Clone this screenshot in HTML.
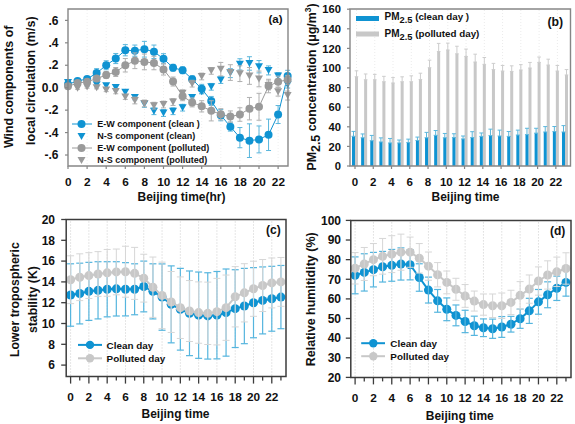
<!DOCTYPE html>
<html><head><meta charset="utf-8"><style>
html,body{margin:0;padding:0;background:#fff;}
svg{display:block;}
</style></head><body>
<svg width="575" height="424" viewBox="0 0 575 424">
<rect width="575" height="424" fill="#fff"/>
<line x1="87.1" y1="10" x2="87.1" y2="165" stroke="#efefef" stroke-width="1" stroke-dasharray="1,2"/>
<line x1="106.2" y1="10" x2="106.2" y2="165" stroke="#efefef" stroke-width="1" stroke-dasharray="1,2"/>
<line x1="125.3" y1="10" x2="125.3" y2="165" stroke="#efefef" stroke-width="1" stroke-dasharray="1,2"/>
<line x1="144.4" y1="10" x2="144.4" y2="165" stroke="#efefef" stroke-width="1" stroke-dasharray="1,2"/>
<line x1="163.5" y1="10" x2="163.5" y2="165" stroke="#efefef" stroke-width="1" stroke-dasharray="1,2"/>
<line x1="182.6" y1="10" x2="182.6" y2="165" stroke="#efefef" stroke-width="1" stroke-dasharray="1,2"/>
<line x1="201.7" y1="10" x2="201.7" y2="165" stroke="#efefef" stroke-width="1" stroke-dasharray="1,2"/>
<line x1="220.8" y1="10" x2="220.8" y2="165" stroke="#efefef" stroke-width="1" stroke-dasharray="1,2"/>
<line x1="239.9" y1="10" x2="239.9" y2="165" stroke="#efefef" stroke-width="1" stroke-dasharray="1,2"/>
<line x1="259" y1="10" x2="259" y2="165" stroke="#efefef" stroke-width="1" stroke-dasharray="1,2"/>
<line x1="278.1" y1="10" x2="278.1" y2="165" stroke="#efefef" stroke-width="1" stroke-dasharray="1,2"/>
<line x1="68" y1="80.18" x2="68" y2="84.67" stroke="#5ab6dc" stroke-width="1"/>
<line x1="65.5" y1="80.18" x2="70.5" y2="80.18" stroke="#5ab6dc" stroke-width="1"/>
<line x1="65.5" y1="84.67" x2="70.5" y2="84.67" stroke="#5ab6dc" stroke-width="1"/>
<line x1="68" y1="82.09" x2="68" y2="86.58" stroke="#5ab6dc" stroke-width="1"/>
<line x1="65.5" y1="82.09" x2="70.5" y2="82.09" stroke="#5ab6dc" stroke-width="1"/>
<line x1="65.5" y1="86.58" x2="70.5" y2="86.58" stroke="#5ab6dc" stroke-width="1"/>
<line x1="77.55" y1="80.97" x2="77.55" y2="85.46" stroke="#5ab6dc" stroke-width="1"/>
<line x1="75.05" y1="80.97" x2="80.05" y2="80.97" stroke="#5ab6dc" stroke-width="1"/>
<line x1="75.05" y1="85.46" x2="80.05" y2="85.46" stroke="#5ab6dc" stroke-width="1"/>
<line x1="77.55" y1="78.72" x2="77.55" y2="83.21" stroke="#5ab6dc" stroke-width="1"/>
<line x1="75.05" y1="78.72" x2="80.05" y2="78.72" stroke="#5ab6dc" stroke-width="1"/>
<line x1="75.05" y1="83.21" x2="80.05" y2="83.21" stroke="#5ab6dc" stroke-width="1"/>
<line x1="87.1" y1="81.53" x2="87.1" y2="86.02" stroke="#5ab6dc" stroke-width="1"/>
<line x1="84.6" y1="81.53" x2="89.6" y2="81.53" stroke="#5ab6dc" stroke-width="1"/>
<line x1="84.6" y1="86.02" x2="89.6" y2="86.02" stroke="#5ab6dc" stroke-width="1"/>
<line x1="87.1" y1="76.7" x2="87.1" y2="81.19" stroke="#5ab6dc" stroke-width="1"/>
<line x1="84.6" y1="76.7" x2="89.6" y2="76.7" stroke="#5ab6dc" stroke-width="1"/>
<line x1="84.6" y1="81.19" x2="89.6" y2="81.19" stroke="#5ab6dc" stroke-width="1"/>
<line x1="96.65" y1="82.43" x2="96.65" y2="86.91" stroke="#5ab6dc" stroke-width="1"/>
<line x1="94.15" y1="82.43" x2="99.15" y2="82.43" stroke="#5ab6dc" stroke-width="1"/>
<line x1="94.15" y1="86.91" x2="99.15" y2="86.91" stroke="#5ab6dc" stroke-width="1"/>
<line x1="96.65" y1="68.63" x2="96.65" y2="77.6" stroke="#5ab6dc" stroke-width="1"/>
<line x1="94.15" y1="68.63" x2="99.15" y2="68.63" stroke="#5ab6dc" stroke-width="1"/>
<line x1="94.15" y1="77.6" x2="99.15" y2="77.6" stroke="#5ab6dc" stroke-width="1"/>
<line x1="106.2" y1="83.55" x2="106.2" y2="88.04" stroke="#5ab6dc" stroke-width="1"/>
<line x1="103.7" y1="83.55" x2="108.7" y2="83.55" stroke="#5ab6dc" stroke-width="1"/>
<line x1="103.7" y1="88.04" x2="108.7" y2="88.04" stroke="#5ab6dc" stroke-width="1"/>
<line x1="106.2" y1="60.77" x2="106.2" y2="69.75" stroke="#5ab6dc" stroke-width="1"/>
<line x1="103.7" y1="60.77" x2="108.7" y2="60.77" stroke="#5ab6dc" stroke-width="1"/>
<line x1="103.7" y1="69.75" x2="108.7" y2="69.75" stroke="#5ab6dc" stroke-width="1"/>
<line x1="115.75" y1="85.34" x2="115.75" y2="89.83" stroke="#5ab6dc" stroke-width="1"/>
<line x1="113.25" y1="85.34" x2="118.25" y2="85.34" stroke="#5ab6dc" stroke-width="1"/>
<line x1="113.25" y1="89.83" x2="118.25" y2="89.83" stroke="#5ab6dc" stroke-width="1"/>
<line x1="115.75" y1="53.48" x2="115.75" y2="63.58" stroke="#5ab6dc" stroke-width="1"/>
<line x1="113.25" y1="53.48" x2="118.25" y2="53.48" stroke="#5ab6dc" stroke-width="1"/>
<line x1="113.25" y1="63.58" x2="118.25" y2="63.58" stroke="#5ab6dc" stroke-width="1"/>
<line x1="125.3" y1="89.94" x2="125.3" y2="94.43" stroke="#5ab6dc" stroke-width="1"/>
<line x1="122.8" y1="89.94" x2="127.8" y2="89.94" stroke="#5ab6dc" stroke-width="1"/>
<line x1="122.8" y1="94.43" x2="127.8" y2="94.43" stroke="#5ab6dc" stroke-width="1"/>
<line x1="125.3" y1="44.62" x2="125.3" y2="55.84" stroke="#5ab6dc" stroke-width="1"/>
<line x1="122.8" y1="44.62" x2="127.8" y2="44.62" stroke="#5ab6dc" stroke-width="1"/>
<line x1="122.8" y1="55.84" x2="127.8" y2="55.84" stroke="#5ab6dc" stroke-width="1"/>
<line x1="134.85" y1="95.33" x2="134.85" y2="99.82" stroke="#5ab6dc" stroke-width="1"/>
<line x1="132.35" y1="95.33" x2="137.35" y2="95.33" stroke="#5ab6dc" stroke-width="1"/>
<line x1="132.35" y1="99.82" x2="137.35" y2="99.82" stroke="#5ab6dc" stroke-width="1"/>
<line x1="134.85" y1="45.06" x2="134.85" y2="56.28" stroke="#5ab6dc" stroke-width="1"/>
<line x1="132.35" y1="45.06" x2="137.35" y2="45.06" stroke="#5ab6dc" stroke-width="1"/>
<line x1="132.35" y1="56.28" x2="137.35" y2="56.28" stroke="#5ab6dc" stroke-width="1"/>
<line x1="144.4" y1="100.6" x2="144.4" y2="107.34" stroke="#5ab6dc" stroke-width="1"/>
<line x1="141.9" y1="100.6" x2="146.9" y2="100.6" stroke="#5ab6dc" stroke-width="1"/>
<line x1="141.9" y1="107.34" x2="146.9" y2="107.34" stroke="#5ab6dc" stroke-width="1"/>
<line x1="144.4" y1="41.36" x2="144.4" y2="57.07" stroke="#5ab6dc" stroke-width="1"/>
<line x1="141.9" y1="41.36" x2="146.9" y2="41.36" stroke="#5ab6dc" stroke-width="1"/>
<line x1="141.9" y1="57.07" x2="146.9" y2="57.07" stroke="#5ab6dc" stroke-width="1"/>
<line x1="153.95" y1="107.9" x2="153.95" y2="114.63" stroke="#5ab6dc" stroke-width="1"/>
<line x1="151.45" y1="107.9" x2="156.45" y2="107.9" stroke="#5ab6dc" stroke-width="1"/>
<line x1="151.45" y1="114.63" x2="156.45" y2="114.63" stroke="#5ab6dc" stroke-width="1"/>
<line x1="153.95" y1="45.06" x2="153.95" y2="58.53" stroke="#5ab6dc" stroke-width="1"/>
<line x1="151.45" y1="45.06" x2="156.45" y2="45.06" stroke="#5ab6dc" stroke-width="1"/>
<line x1="151.45" y1="58.53" x2="156.45" y2="58.53" stroke="#5ab6dc" stroke-width="1"/>
<line x1="163.5" y1="109.69" x2="163.5" y2="116.42" stroke="#5ab6dc" stroke-width="1"/>
<line x1="161" y1="109.69" x2="166" y2="109.69" stroke="#5ab6dc" stroke-width="1"/>
<line x1="161" y1="116.42" x2="166" y2="116.42" stroke="#5ab6dc" stroke-width="1"/>
<line x1="163.5" y1="53.7" x2="163.5" y2="63.8" stroke="#5ab6dc" stroke-width="1"/>
<line x1="161" y1="53.7" x2="166" y2="53.7" stroke="#5ab6dc" stroke-width="1"/>
<line x1="161" y1="63.8" x2="166" y2="63.8" stroke="#5ab6dc" stroke-width="1"/>
<line x1="173.05" y1="107.9" x2="173.05" y2="114.63" stroke="#5ab6dc" stroke-width="1"/>
<line x1="170.55" y1="107.9" x2="175.55" y2="107.9" stroke="#5ab6dc" stroke-width="1"/>
<line x1="170.55" y1="114.63" x2="175.55" y2="114.63" stroke="#5ab6dc" stroke-width="1"/>
<line x1="173.05" y1="64.36" x2="173.05" y2="71.09" stroke="#5ab6dc" stroke-width="1"/>
<line x1="170.55" y1="64.36" x2="175.55" y2="64.36" stroke="#5ab6dc" stroke-width="1"/>
<line x1="170.55" y1="71.09" x2="175.55" y2="71.09" stroke="#5ab6dc" stroke-width="1"/>
<line x1="182.6" y1="104.31" x2="182.6" y2="111.04" stroke="#5ab6dc" stroke-width="1"/>
<line x1="180.1" y1="104.31" x2="185.1" y2="104.31" stroke="#5ab6dc" stroke-width="1"/>
<line x1="180.1" y1="111.04" x2="185.1" y2="111.04" stroke="#5ab6dc" stroke-width="1"/>
<line x1="182.6" y1="66.94" x2="182.6" y2="73.67" stroke="#5ab6dc" stroke-width="1"/>
<line x1="180.1" y1="66.94" x2="185.1" y2="66.94" stroke="#5ab6dc" stroke-width="1"/>
<line x1="180.1" y1="73.67" x2="185.1" y2="73.67" stroke="#5ab6dc" stroke-width="1"/>
<line x1="192.15" y1="95.33" x2="192.15" y2="99.82" stroke="#5ab6dc" stroke-width="1"/>
<line x1="189.65" y1="95.33" x2="194.65" y2="95.33" stroke="#5ab6dc" stroke-width="1"/>
<line x1="189.65" y1="99.82" x2="194.65" y2="99.82" stroke="#5ab6dc" stroke-width="1"/>
<line x1="192.15" y1="75.81" x2="192.15" y2="82.54" stroke="#5ab6dc" stroke-width="1"/>
<line x1="189.65" y1="75.81" x2="194.65" y2="75.81" stroke="#5ab6dc" stroke-width="1"/>
<line x1="189.65" y1="82.54" x2="194.65" y2="82.54" stroke="#5ab6dc" stroke-width="1"/>
<line x1="201.7" y1="89.38" x2="201.7" y2="93.87" stroke="#5ab6dc" stroke-width="1"/>
<line x1="199.2" y1="89.38" x2="204.2" y2="89.38" stroke="#5ab6dc" stroke-width="1"/>
<line x1="199.2" y1="93.87" x2="204.2" y2="93.87" stroke="#5ab6dc" stroke-width="1"/>
<line x1="201.7" y1="84.33" x2="201.7" y2="93.31" stroke="#5ab6dc" stroke-width="1"/>
<line x1="199.2" y1="84.33" x2="204.2" y2="84.33" stroke="#5ab6dc" stroke-width="1"/>
<line x1="199.2" y1="93.31" x2="204.2" y2="93.31" stroke="#5ab6dc" stroke-width="1"/>
<line x1="211.25" y1="83.44" x2="211.25" y2="90.17" stroke="#5ab6dc" stroke-width="1"/>
<line x1="208.75" y1="83.44" x2="213.75" y2="83.44" stroke="#5ab6dc" stroke-width="1"/>
<line x1="208.75" y1="90.17" x2="213.75" y2="90.17" stroke="#5ab6dc" stroke-width="1"/>
<line x1="211.25" y1="96.45" x2="211.25" y2="105.43" stroke="#5ab6dc" stroke-width="1"/>
<line x1="208.75" y1="96.45" x2="213.75" y2="96.45" stroke="#5ab6dc" stroke-width="1"/>
<line x1="208.75" y1="105.43" x2="213.75" y2="105.43" stroke="#5ab6dc" stroke-width="1"/>
<line x1="220.8" y1="76.7" x2="220.8" y2="83.44" stroke="#5ab6dc" stroke-width="1"/>
<line x1="218.3" y1="76.7" x2="223.3" y2="76.7" stroke="#5ab6dc" stroke-width="1"/>
<line x1="218.3" y1="83.44" x2="223.3" y2="83.44" stroke="#5ab6dc" stroke-width="1"/>
<line x1="220.8" y1="109.58" x2="220.8" y2="120.8" stroke="#5ab6dc" stroke-width="1"/>
<line x1="218.3" y1="109.58" x2="223.3" y2="109.58" stroke="#5ab6dc" stroke-width="1"/>
<line x1="218.3" y1="120.8" x2="223.3" y2="120.8" stroke="#5ab6dc" stroke-width="1"/>
<line x1="230.35" y1="68.63" x2="230.35" y2="77.6" stroke="#5ab6dc" stroke-width="1"/>
<line x1="227.85" y1="68.63" x2="232.85" y2="68.63" stroke="#5ab6dc" stroke-width="1"/>
<line x1="227.85" y1="77.6" x2="232.85" y2="77.6" stroke="#5ab6dc" stroke-width="1"/>
<line x1="230.35" y1="122.15" x2="230.35" y2="131.12" stroke="#5ab6dc" stroke-width="1"/>
<line x1="227.85" y1="122.15" x2="232.85" y2="122.15" stroke="#5ab6dc" stroke-width="1"/>
<line x1="227.85" y1="131.12" x2="232.85" y2="131.12" stroke="#5ab6dc" stroke-width="1"/>
<line x1="239.9" y1="58.75" x2="239.9" y2="69.97" stroke="#5ab6dc" stroke-width="1"/>
<line x1="237.4" y1="58.75" x2="242.4" y2="58.75" stroke="#5ab6dc" stroke-width="1"/>
<line x1="237.4" y1="69.97" x2="242.4" y2="69.97" stroke="#5ab6dc" stroke-width="1"/>
<line x1="239.9" y1="127.53" x2="239.9" y2="147.73" stroke="#5ab6dc" stroke-width="1"/>
<line x1="237.4" y1="127.53" x2="242.4" y2="127.53" stroke="#5ab6dc" stroke-width="1"/>
<line x1="237.4" y1="147.73" x2="242.4" y2="147.73" stroke="#5ab6dc" stroke-width="1"/>
<line x1="249.45" y1="56.73" x2="249.45" y2="70.2" stroke="#5ab6dc" stroke-width="1"/>
<line x1="246.95" y1="56.73" x2="251.95" y2="56.73" stroke="#5ab6dc" stroke-width="1"/>
<line x1="246.95" y1="70.2" x2="251.95" y2="70.2" stroke="#5ab6dc" stroke-width="1"/>
<line x1="249.45" y1="123.83" x2="249.45" y2="157.49" stroke="#5ab6dc" stroke-width="1"/>
<line x1="246.95" y1="123.83" x2="251.95" y2="123.83" stroke="#5ab6dc" stroke-width="1"/>
<line x1="246.95" y1="157.49" x2="251.95" y2="157.49" stroke="#5ab6dc" stroke-width="1"/>
<line x1="259" y1="60.55" x2="259" y2="72.89" stroke="#5ab6dc" stroke-width="1"/>
<line x1="256.5" y1="60.55" x2="261.5" y2="60.55" stroke="#5ab6dc" stroke-width="1"/>
<line x1="256.5" y1="72.89" x2="261.5" y2="72.89" stroke="#5ab6dc" stroke-width="1"/>
<line x1="259" y1="125.96" x2="259" y2="152.89" stroke="#5ab6dc" stroke-width="1"/>
<line x1="256.5" y1="125.96" x2="261.5" y2="125.96" stroke="#5ab6dc" stroke-width="1"/>
<line x1="256.5" y1="152.89" x2="261.5" y2="152.89" stroke="#5ab6dc" stroke-width="1"/>
<line x1="268.55" y1="65.93" x2="268.55" y2="74.91" stroke="#5ab6dc" stroke-width="1"/>
<line x1="266.05" y1="65.93" x2="271.05" y2="65.93" stroke="#5ab6dc" stroke-width="1"/>
<line x1="266.05" y1="74.91" x2="271.05" y2="74.91" stroke="#5ab6dc" stroke-width="1"/>
<line x1="268.55" y1="119.12" x2="268.55" y2="150.53" stroke="#5ab6dc" stroke-width="1"/>
<line x1="266.05" y1="119.12" x2="271.05" y2="119.12" stroke="#5ab6dc" stroke-width="1"/>
<line x1="266.05" y1="150.53" x2="271.05" y2="150.53" stroke="#5ab6dc" stroke-width="1"/>
<line x1="278.1" y1="72.67" x2="278.1" y2="79.4" stroke="#5ab6dc" stroke-width="1"/>
<line x1="275.6" y1="72.67" x2="280.6" y2="72.67" stroke="#5ab6dc" stroke-width="1"/>
<line x1="275.6" y1="79.4" x2="280.6" y2="79.4" stroke="#5ab6dc" stroke-width="1"/>
<line x1="278.1" y1="105.54" x2="278.1" y2="123.49" stroke="#5ab6dc" stroke-width="1"/>
<line x1="275.6" y1="105.54" x2="280.6" y2="105.54" stroke="#5ab6dc" stroke-width="1"/>
<line x1="275.6" y1="123.49" x2="280.6" y2="123.49" stroke="#5ab6dc" stroke-width="1"/>
<line x1="287.65" y1="81.3" x2="287.65" y2="88.04" stroke="#5ab6dc" stroke-width="1"/>
<line x1="285.15" y1="81.3" x2="290.15" y2="81.3" stroke="#5ab6dc" stroke-width="1"/>
<line x1="285.15" y1="88.04" x2="290.15" y2="88.04" stroke="#5ab6dc" stroke-width="1"/>
<line x1="287.65" y1="70.31" x2="287.65" y2="81.53" stroke="#5ab6dc" stroke-width="1"/>
<line x1="285.15" y1="70.31" x2="290.15" y2="70.31" stroke="#5ab6dc" stroke-width="1"/>
<line x1="285.15" y1="81.53" x2="290.15" y2="81.53" stroke="#5ab6dc" stroke-width="1"/>
<polyline points="68,84.33 77.55,80.97 87.1,78.95 96.65,73.11 106.2,65.26 115.75,58.53 125.3,50.23 134.85,50.67 144.4,49.22 153.95,51.8 163.5,58.75 173.05,67.73 182.6,70.31 192.15,79.17 201.7,88.82 211.25,100.94 220.8,115.19 230.35,126.63 239.9,137.63 249.45,140.66 259,139.42 268.55,134.82 278.1,114.52 287.65,75.92" fill="none" stroke="#0f93d2" stroke-width="1" stroke-linejoin="round"/>
<circle cx="68" cy="84.33" r="4" fill="#0f93d2"/>
<circle cx="77.55" cy="80.97" r="4" fill="#0f93d2"/>
<circle cx="87.1" cy="78.95" r="4" fill="#0f93d2"/>
<circle cx="96.65" cy="73.11" r="4" fill="#0f93d2"/>
<circle cx="106.2" cy="65.26" r="4" fill="#0f93d2"/>
<circle cx="115.75" cy="58.53" r="4" fill="#0f93d2"/>
<circle cx="125.3" cy="50.23" r="4" fill="#0f93d2"/>
<circle cx="134.85" cy="50.67" r="4" fill="#0f93d2"/>
<circle cx="144.4" cy="49.22" r="4" fill="#0f93d2"/>
<circle cx="153.95" cy="51.8" r="4" fill="#0f93d2"/>
<circle cx="163.5" cy="58.75" r="4" fill="#0f93d2"/>
<circle cx="173.05" cy="67.73" r="4" fill="#0f93d2"/>
<circle cx="182.6" cy="70.31" r="4" fill="#0f93d2"/>
<circle cx="192.15" cy="79.17" r="4" fill="#0f93d2"/>
<circle cx="201.7" cy="88.82" r="4" fill="#0f93d2"/>
<circle cx="211.25" cy="100.94" r="4" fill="#0f93d2"/>
<circle cx="220.8" cy="115.19" r="4" fill="#0f93d2"/>
<circle cx="230.35" cy="126.63" r="4" fill="#0f93d2"/>
<circle cx="239.9" cy="137.63" r="4" fill="#0f93d2"/>
<circle cx="249.45" cy="140.66" r="4" fill="#0f93d2"/>
<circle cx="259" cy="139.42" r="4" fill="#0f93d2"/>
<circle cx="268.55" cy="134.82" r="4" fill="#0f93d2"/>
<circle cx="278.1" cy="114.52" r="4" fill="#0f93d2"/>
<circle cx="287.65" cy="75.92" r="4" fill="#0f93d2"/>
<polygon points="64,78.93 72,78.93 68,85.93" fill="#0f93d2"/>
<polygon points="73.55,79.71 81.55,79.71 77.55,86.71" fill="#0f93d2"/>
<polygon points="83.1,80.27 91.1,80.27 87.1,87.27" fill="#0f93d2"/>
<polygon points="92.65,81.17 100.65,81.17 96.65,88.17" fill="#0f93d2"/>
<polygon points="102.2,82.29 110.2,82.29 106.2,89.29" fill="#0f93d2"/>
<polygon points="111.75,84.09 119.75,84.09 115.75,91.09" fill="#0f93d2"/>
<polygon points="121.3,88.69 129.3,88.69 125.3,95.69" fill="#0f93d2"/>
<polygon points="130.85,94.07 138.85,94.07 134.85,101.07" fill="#0f93d2"/>
<polygon points="140.4,100.47 148.4,100.47 144.4,107.47" fill="#0f93d2"/>
<polygon points="149.95,107.76 157.95,107.76 153.95,114.76" fill="#0f93d2"/>
<polygon points="159.5,109.56 167.5,109.56 163.5,116.56" fill="#0f93d2"/>
<polygon points="169.05,107.76 177.05,107.76 173.05,114.76" fill="#0f93d2"/>
<polygon points="178.6,104.17 186.6,104.17 182.6,111.17" fill="#0f93d2"/>
<polygon points="188.15,94.07 196.15,94.07 192.15,101.07" fill="#0f93d2"/>
<polygon points="197.7,88.13 205.7,88.13 201.7,95.13" fill="#0f93d2"/>
<polygon points="207.25,83.3 215.25,83.3 211.25,90.3" fill="#0f93d2"/>
<polygon points="216.8,76.57 224.8,76.57 220.8,83.57" fill="#0f93d2"/>
<polygon points="226.35,69.61 234.35,69.61 230.35,76.61" fill="#0f93d2"/>
<polygon points="235.9,60.86 243.9,60.86 239.9,67.86" fill="#0f93d2"/>
<polygon points="245.45,59.96 253.45,59.96 249.45,66.96" fill="#0f93d2"/>
<polygon points="255,63.22 263,63.22 259,70.22" fill="#0f93d2"/>
<polygon points="264.55,66.92 272.55,66.92 268.55,73.92" fill="#0f93d2"/>
<polygon points="274.1,72.53 282.1,72.53 278.1,79.53" fill="#0f93d2"/>
<polygon points="283.65,81.17 291.65,81.17 287.65,88.17" fill="#0f93d2"/>
<line x1="68" y1="85.9" x2="68" y2="88.15" stroke="#b0b0b0" stroke-width="1"/>
<line x1="65.5" y1="85.9" x2="70.5" y2="85.9" stroke="#b0b0b0" stroke-width="1"/>
<line x1="65.5" y1="88.15" x2="70.5" y2="88.15" stroke="#b0b0b0" stroke-width="1"/>
<line x1="68" y1="84.11" x2="68" y2="88.6" stroke="#b0b0b0" stroke-width="1"/>
<line x1="65.5" y1="84.11" x2="70.5" y2="84.11" stroke="#b0b0b0" stroke-width="1"/>
<line x1="65.5" y1="88.6" x2="70.5" y2="88.6" stroke="#b0b0b0" stroke-width="1"/>
<line x1="77.55" y1="87.03" x2="77.55" y2="89.27" stroke="#b0b0b0" stroke-width="1"/>
<line x1="75.05" y1="87.03" x2="80.05" y2="87.03" stroke="#b0b0b0" stroke-width="1"/>
<line x1="75.05" y1="89.27" x2="80.05" y2="89.27" stroke="#b0b0b0" stroke-width="1"/>
<line x1="77.55" y1="80.86" x2="77.55" y2="85.34" stroke="#b0b0b0" stroke-width="1"/>
<line x1="75.05" y1="80.86" x2="80.05" y2="80.86" stroke="#b0b0b0" stroke-width="1"/>
<line x1="75.05" y1="85.34" x2="80.05" y2="85.34" stroke="#b0b0b0" stroke-width="1"/>
<line x1="87.1" y1="85.9" x2="87.1" y2="88.15" stroke="#b0b0b0" stroke-width="1"/>
<line x1="84.6" y1="85.9" x2="89.6" y2="85.9" stroke="#b0b0b0" stroke-width="1"/>
<line x1="84.6" y1="88.15" x2="89.6" y2="88.15" stroke="#b0b0b0" stroke-width="1"/>
<line x1="87.1" y1="79.51" x2="87.1" y2="84" stroke="#b0b0b0" stroke-width="1"/>
<line x1="84.6" y1="79.51" x2="89.6" y2="79.51" stroke="#b0b0b0" stroke-width="1"/>
<line x1="84.6" y1="84" x2="89.6" y2="84" stroke="#b0b0b0" stroke-width="1"/>
<line x1="96.65" y1="86.58" x2="96.65" y2="88.82" stroke="#b0b0b0" stroke-width="1"/>
<line x1="94.15" y1="86.58" x2="99.15" y2="86.58" stroke="#b0b0b0" stroke-width="1"/>
<line x1="94.15" y1="88.82" x2="99.15" y2="88.82" stroke="#b0b0b0" stroke-width="1"/>
<line x1="96.65" y1="76.37" x2="96.65" y2="80.86" stroke="#b0b0b0" stroke-width="1"/>
<line x1="94.15" y1="76.37" x2="99.15" y2="76.37" stroke="#b0b0b0" stroke-width="1"/>
<line x1="94.15" y1="80.86" x2="99.15" y2="80.86" stroke="#b0b0b0" stroke-width="1"/>
<line x1="106.2" y1="88.26" x2="106.2" y2="91.63" stroke="#b0b0b0" stroke-width="1"/>
<line x1="103.7" y1="88.26" x2="108.7" y2="88.26" stroke="#b0b0b0" stroke-width="1"/>
<line x1="103.7" y1="91.63" x2="108.7" y2="91.63" stroke="#b0b0b0" stroke-width="1"/>
<line x1="106.2" y1="71.66" x2="106.2" y2="78.39" stroke="#b0b0b0" stroke-width="1"/>
<line x1="103.7" y1="71.66" x2="108.7" y2="71.66" stroke="#b0b0b0" stroke-width="1"/>
<line x1="103.7" y1="78.39" x2="108.7" y2="78.39" stroke="#b0b0b0" stroke-width="1"/>
<line x1="115.75" y1="89.27" x2="115.75" y2="93.76" stroke="#b0b0b0" stroke-width="1"/>
<line x1="113.25" y1="89.27" x2="118.25" y2="89.27" stroke="#b0b0b0" stroke-width="1"/>
<line x1="113.25" y1="93.76" x2="118.25" y2="93.76" stroke="#b0b0b0" stroke-width="1"/>
<line x1="115.75" y1="67.5" x2="115.75" y2="76.48" stroke="#b0b0b0" stroke-width="1"/>
<line x1="113.25" y1="67.5" x2="118.25" y2="67.5" stroke="#b0b0b0" stroke-width="1"/>
<line x1="113.25" y1="76.48" x2="118.25" y2="76.48" stroke="#b0b0b0" stroke-width="1"/>
<line x1="125.3" y1="94.88" x2="125.3" y2="99.37" stroke="#b0b0b0" stroke-width="1"/>
<line x1="122.8" y1="94.88" x2="127.8" y2="94.88" stroke="#b0b0b0" stroke-width="1"/>
<line x1="122.8" y1="99.37" x2="127.8" y2="99.37" stroke="#b0b0b0" stroke-width="1"/>
<line x1="125.3" y1="58.53" x2="125.3" y2="71.99" stroke="#b0b0b0" stroke-width="1"/>
<line x1="122.8" y1="58.53" x2="127.8" y2="58.53" stroke="#b0b0b0" stroke-width="1"/>
<line x1="122.8" y1="71.99" x2="127.8" y2="71.99" stroke="#b0b0b0" stroke-width="1"/>
<line x1="134.85" y1="97.12" x2="134.85" y2="103.86" stroke="#b0b0b0" stroke-width="1"/>
<line x1="132.35" y1="97.12" x2="137.35" y2="97.12" stroke="#b0b0b0" stroke-width="1"/>
<line x1="132.35" y1="103.86" x2="137.35" y2="103.86" stroke="#b0b0b0" stroke-width="1"/>
<line x1="134.85" y1="52.92" x2="134.85" y2="68.63" stroke="#b0b0b0" stroke-width="1"/>
<line x1="132.35" y1="52.92" x2="137.35" y2="52.92" stroke="#b0b0b0" stroke-width="1"/>
<line x1="132.35" y1="68.63" x2="137.35" y2="68.63" stroke="#b0b0b0" stroke-width="1"/>
<line x1="144.4" y1="100.04" x2="144.4" y2="106.77" stroke="#b0b0b0" stroke-width="1"/>
<line x1="141.9" y1="100.04" x2="146.9" y2="100.04" stroke="#b0b0b0" stroke-width="1"/>
<line x1="141.9" y1="106.77" x2="146.9" y2="106.77" stroke="#b0b0b0" stroke-width="1"/>
<line x1="144.4" y1="54.04" x2="144.4" y2="69.75" stroke="#b0b0b0" stroke-width="1"/>
<line x1="141.9" y1="54.04" x2="146.9" y2="54.04" stroke="#b0b0b0" stroke-width="1"/>
<line x1="141.9" y1="69.75" x2="146.9" y2="69.75" stroke="#b0b0b0" stroke-width="1"/>
<line x1="153.95" y1="102.29" x2="153.95" y2="109.02" stroke="#b0b0b0" stroke-width="1"/>
<line x1="151.45" y1="102.29" x2="156.45" y2="102.29" stroke="#b0b0b0" stroke-width="1"/>
<line x1="151.45" y1="109.02" x2="156.45" y2="109.02" stroke="#b0b0b0" stroke-width="1"/>
<line x1="153.95" y1="56.28" x2="153.95" y2="69.75" stroke="#b0b0b0" stroke-width="1"/>
<line x1="151.45" y1="56.28" x2="156.45" y2="56.28" stroke="#b0b0b0" stroke-width="1"/>
<line x1="151.45" y1="69.75" x2="156.45" y2="69.75" stroke="#b0b0b0" stroke-width="1"/>
<line x1="163.5" y1="101.16" x2="163.5" y2="107.9" stroke="#b0b0b0" stroke-width="1"/>
<line x1="161" y1="101.16" x2="166" y2="101.16" stroke="#b0b0b0" stroke-width="1"/>
<line x1="161" y1="107.9" x2="166" y2="107.9" stroke="#b0b0b0" stroke-width="1"/>
<line x1="163.5" y1="63.8" x2="163.5" y2="75.02" stroke="#b0b0b0" stroke-width="1"/>
<line x1="161" y1="63.8" x2="166" y2="63.8" stroke="#b0b0b0" stroke-width="1"/>
<line x1="161" y1="75.02" x2="166" y2="75.02" stroke="#b0b0b0" stroke-width="1"/>
<line x1="173.05" y1="98.7" x2="173.05" y2="105.43" stroke="#b0b0b0" stroke-width="1"/>
<line x1="170.55" y1="98.7" x2="175.55" y2="98.7" stroke="#b0b0b0" stroke-width="1"/>
<line x1="170.55" y1="105.43" x2="175.55" y2="105.43" stroke="#b0b0b0" stroke-width="1"/>
<line x1="173.05" y1="77.04" x2="173.05" y2="86.02" stroke="#b0b0b0" stroke-width="1"/>
<line x1="170.55" y1="77.04" x2="175.55" y2="77.04" stroke="#b0b0b0" stroke-width="1"/>
<line x1="170.55" y1="86.02" x2="175.55" y2="86.02" stroke="#b0b0b0" stroke-width="1"/>
<line x1="182.6" y1="89.94" x2="182.6" y2="96.68" stroke="#b0b0b0" stroke-width="1"/>
<line x1="180.1" y1="89.94" x2="185.1" y2="89.94" stroke="#b0b0b0" stroke-width="1"/>
<line x1="180.1" y1="96.68" x2="185.1" y2="96.68" stroke="#b0b0b0" stroke-width="1"/>
<line x1="182.6" y1="91.74" x2="182.6" y2="100.72" stroke="#b0b0b0" stroke-width="1"/>
<line x1="180.1" y1="91.74" x2="185.1" y2="91.74" stroke="#b0b0b0" stroke-width="1"/>
<line x1="180.1" y1="100.72" x2="185.1" y2="100.72" stroke="#b0b0b0" stroke-width="1"/>
<line x1="192.15" y1="80.29" x2="192.15" y2="87.03" stroke="#b0b0b0" stroke-width="1"/>
<line x1="189.65" y1="80.29" x2="194.65" y2="80.29" stroke="#b0b0b0" stroke-width="1"/>
<line x1="189.65" y1="87.03" x2="194.65" y2="87.03" stroke="#b0b0b0" stroke-width="1"/>
<line x1="192.15" y1="97.91" x2="192.15" y2="106.89" stroke="#b0b0b0" stroke-width="1"/>
<line x1="189.65" y1="97.91" x2="194.65" y2="97.91" stroke="#b0b0b0" stroke-width="1"/>
<line x1="189.65" y1="106.89" x2="194.65" y2="106.89" stroke="#b0b0b0" stroke-width="1"/>
<line x1="201.7" y1="73.11" x2="201.7" y2="79.85" stroke="#b0b0b0" stroke-width="1"/>
<line x1="199.2" y1="73.11" x2="204.2" y2="73.11" stroke="#b0b0b0" stroke-width="1"/>
<line x1="199.2" y1="79.85" x2="204.2" y2="79.85" stroke="#b0b0b0" stroke-width="1"/>
<line x1="201.7" y1="100.72" x2="201.7" y2="111.94" stroke="#b0b0b0" stroke-width="1"/>
<line x1="199.2" y1="100.72" x2="204.2" y2="100.72" stroke="#b0b0b0" stroke-width="1"/>
<line x1="199.2" y1="111.94" x2="204.2" y2="111.94" stroke="#b0b0b0" stroke-width="1"/>
<line x1="211.25" y1="67.5" x2="211.25" y2="74.24" stroke="#b0b0b0" stroke-width="1"/>
<line x1="208.75" y1="67.5" x2="213.75" y2="67.5" stroke="#b0b0b0" stroke-width="1"/>
<line x1="208.75" y1="74.24" x2="213.75" y2="74.24" stroke="#b0b0b0" stroke-width="1"/>
<line x1="211.25" y1="100.72" x2="211.25" y2="120.91" stroke="#b0b0b0" stroke-width="1"/>
<line x1="208.75" y1="100.72" x2="213.75" y2="100.72" stroke="#b0b0b0" stroke-width="1"/>
<line x1="208.75" y1="120.91" x2="213.75" y2="120.91" stroke="#b0b0b0" stroke-width="1"/>
<line x1="220.8" y1="62.45" x2="220.8" y2="75.92" stroke="#b0b0b0" stroke-width="1"/>
<line x1="218.3" y1="62.45" x2="223.3" y2="62.45" stroke="#b0b0b0" stroke-width="1"/>
<line x1="218.3" y1="75.92" x2="223.3" y2="75.92" stroke="#b0b0b0" stroke-width="1"/>
<line x1="220.8" y1="108.68" x2="220.8" y2="119.9" stroke="#b0b0b0" stroke-width="1"/>
<line x1="218.3" y1="108.68" x2="223.3" y2="108.68" stroke="#b0b0b0" stroke-width="1"/>
<line x1="218.3" y1="119.9" x2="223.3" y2="119.9" stroke="#b0b0b0" stroke-width="1"/>
<line x1="230.35" y1="64.7" x2="230.35" y2="80.41" stroke="#b0b0b0" stroke-width="1"/>
<line x1="227.85" y1="64.7" x2="232.85" y2="64.7" stroke="#b0b0b0" stroke-width="1"/>
<line x1="227.85" y1="80.41" x2="232.85" y2="80.41" stroke="#b0b0b0" stroke-width="1"/>
<line x1="230.35" y1="110.93" x2="230.35" y2="122.15" stroke="#b0b0b0" stroke-width="1"/>
<line x1="227.85" y1="110.93" x2="232.85" y2="110.93" stroke="#b0b0b0" stroke-width="1"/>
<line x1="227.85" y1="122.15" x2="232.85" y2="122.15" stroke="#b0b0b0" stroke-width="1"/>
<line x1="239.9" y1="65.82" x2="239.9" y2="81.53" stroke="#b0b0b0" stroke-width="1"/>
<line x1="237.4" y1="65.82" x2="242.4" y2="65.82" stroke="#b0b0b0" stroke-width="1"/>
<line x1="237.4" y1="81.53" x2="242.4" y2="81.53" stroke="#b0b0b0" stroke-width="1"/>
<line x1="239.9" y1="107.78" x2="239.9" y2="121.25" stroke="#b0b0b0" stroke-width="1"/>
<line x1="237.4" y1="107.78" x2="242.4" y2="107.78" stroke="#b0b0b0" stroke-width="1"/>
<line x1="237.4" y1="121.25" x2="242.4" y2="121.25" stroke="#b0b0b0" stroke-width="1"/>
<line x1="249.45" y1="67.5" x2="249.45" y2="84.33" stroke="#b0b0b0" stroke-width="1"/>
<line x1="246.95" y1="67.5" x2="251.95" y2="67.5" stroke="#b0b0b0" stroke-width="1"/>
<line x1="246.95" y1="84.33" x2="251.95" y2="84.33" stroke="#b0b0b0" stroke-width="1"/>
<line x1="249.45" y1="97.46" x2="249.45" y2="119.9" stroke="#b0b0b0" stroke-width="1"/>
<line x1="246.95" y1="97.46" x2="251.95" y2="97.46" stroke="#b0b0b0" stroke-width="1"/>
<line x1="246.95" y1="119.9" x2="251.95" y2="119.9" stroke="#b0b0b0" stroke-width="1"/>
<line x1="259" y1="71.09" x2="259" y2="86.8" stroke="#b0b0b0" stroke-width="1"/>
<line x1="256.5" y1="71.09" x2="261.5" y2="71.09" stroke="#b0b0b0" stroke-width="1"/>
<line x1="256.5" y1="86.8" x2="261.5" y2="86.8" stroke="#b0b0b0" stroke-width="1"/>
<line x1="259" y1="93.31" x2="259" y2="120.24" stroke="#b0b0b0" stroke-width="1"/>
<line x1="256.5" y1="93.31" x2="261.5" y2="93.31" stroke="#b0b0b0" stroke-width="1"/>
<line x1="256.5" y1="120.24" x2="261.5" y2="120.24" stroke="#b0b0b0" stroke-width="1"/>
<line x1="268.55" y1="80.97" x2="268.55" y2="89.94" stroke="#b0b0b0" stroke-width="1"/>
<line x1="266.05" y1="80.97" x2="271.05" y2="80.97" stroke="#b0b0b0" stroke-width="1"/>
<line x1="266.05" y1="89.94" x2="271.05" y2="89.94" stroke="#b0b0b0" stroke-width="1"/>
<line x1="268.55" y1="79.28" x2="268.55" y2="92.75" stroke="#b0b0b0" stroke-width="1"/>
<line x1="266.05" y1="79.28" x2="271.05" y2="79.28" stroke="#b0b0b0" stroke-width="1"/>
<line x1="266.05" y1="92.75" x2="271.05" y2="92.75" stroke="#b0b0b0" stroke-width="1"/>
<line x1="278.1" y1="87.14" x2="278.1" y2="96.12" stroke="#b0b0b0" stroke-width="1"/>
<line x1="275.6" y1="87.14" x2="280.6" y2="87.14" stroke="#b0b0b0" stroke-width="1"/>
<line x1="275.6" y1="96.12" x2="280.6" y2="96.12" stroke="#b0b0b0" stroke-width="1"/>
<line x1="278.1" y1="76.14" x2="278.1" y2="87.36" stroke="#b0b0b0" stroke-width="1"/>
<line x1="275.6" y1="76.14" x2="280.6" y2="76.14" stroke="#b0b0b0" stroke-width="1"/>
<line x1="275.6" y1="87.36" x2="280.6" y2="87.36" stroke="#b0b0b0" stroke-width="1"/>
<line x1="287.65" y1="91.07" x2="287.65" y2="100.04" stroke="#b0b0b0" stroke-width="1"/>
<line x1="285.15" y1="91.07" x2="290.15" y2="91.07" stroke="#b0b0b0" stroke-width="1"/>
<line x1="285.15" y1="100.04" x2="290.15" y2="100.04" stroke="#b0b0b0" stroke-width="1"/>
<line x1="287.65" y1="75.36" x2="287.65" y2="84.33" stroke="#b0b0b0" stroke-width="1"/>
<line x1="285.15" y1="75.36" x2="290.15" y2="75.36" stroke="#b0b0b0" stroke-width="1"/>
<line x1="285.15" y1="84.33" x2="290.15" y2="84.33" stroke="#b0b0b0" stroke-width="1"/>
<polyline points="68,86.35 77.55,83.1 87.1,81.75 96.65,78.61 106.2,75.02 115.75,71.99 125.3,65.26 134.85,60.77 144.4,61.89 153.95,63.02 163.5,69.41 173.05,81.53 182.6,96.23 192.15,102.4 201.7,106.33 211.25,110.81 220.8,114.29 230.35,116.54 239.9,114.52 249.45,108.68 259,106.77 268.55,86.02 278.1,81.75 287.65,79.85" fill="none" stroke="#9a9a9a" stroke-width="1" stroke-linejoin="round"/>
<circle cx="68" cy="86.35" r="4" fill="#9a9a9a"/>
<circle cx="77.55" cy="83.1" r="4" fill="#9a9a9a"/>
<circle cx="87.1" cy="81.75" r="4" fill="#9a9a9a"/>
<circle cx="96.65" cy="78.61" r="4" fill="#9a9a9a"/>
<circle cx="106.2" cy="75.02" r="4" fill="#9a9a9a"/>
<circle cx="115.75" cy="71.99" r="4" fill="#9a9a9a"/>
<circle cx="125.3" cy="65.26" r="4" fill="#9a9a9a"/>
<circle cx="134.85" cy="60.77" r="4" fill="#9a9a9a"/>
<circle cx="144.4" cy="61.89" r="4" fill="#9a9a9a"/>
<circle cx="153.95" cy="63.02" r="4" fill="#9a9a9a"/>
<circle cx="163.5" cy="69.41" r="4" fill="#9a9a9a"/>
<circle cx="173.05" cy="81.53" r="4" fill="#9a9a9a"/>
<circle cx="182.6" cy="96.23" r="4" fill="#9a9a9a"/>
<circle cx="192.15" cy="102.4" r="4" fill="#9a9a9a"/>
<circle cx="201.7" cy="106.33" r="4" fill="#9a9a9a"/>
<circle cx="211.25" cy="110.81" r="4" fill="#9a9a9a"/>
<circle cx="220.8" cy="114.29" r="4" fill="#9a9a9a"/>
<circle cx="230.35" cy="116.54" r="4" fill="#9a9a9a"/>
<circle cx="239.9" cy="114.52" r="4" fill="#9a9a9a"/>
<circle cx="249.45" cy="108.68" r="4" fill="#9a9a9a"/>
<circle cx="259" cy="106.77" r="4" fill="#9a9a9a"/>
<circle cx="268.55" cy="86.02" r="4" fill="#9a9a9a"/>
<circle cx="278.1" cy="81.75" r="4" fill="#9a9a9a"/>
<circle cx="287.65" cy="79.85" r="4" fill="#9a9a9a"/>
<polygon points="64,83.53 72,83.53 68,90.53" fill="#9a9a9a"/>
<polygon points="73.55,84.65 81.55,84.65 77.55,91.65" fill="#9a9a9a"/>
<polygon points="83.1,83.53 91.1,83.53 87.1,90.53" fill="#9a9a9a"/>
<polygon points="92.65,84.2 100.65,84.2 96.65,91.2" fill="#9a9a9a"/>
<polygon points="102.2,86.44 110.2,86.44 106.2,93.44" fill="#9a9a9a"/>
<polygon points="111.75,88.01 119.75,88.01 115.75,95.01" fill="#9a9a9a"/>
<polygon points="121.3,93.62 129.3,93.62 125.3,100.62" fill="#9a9a9a"/>
<polygon points="130.85,96.99 138.85,96.99 134.85,103.99" fill="#9a9a9a"/>
<polygon points="140.4,99.91 148.4,99.91 144.4,106.91" fill="#9a9a9a"/>
<polygon points="149.95,102.15 157.95,102.15 153.95,109.15" fill="#9a9a9a"/>
<polygon points="159.5,101.03 167.5,101.03 163.5,108.03" fill="#9a9a9a"/>
<polygon points="169.05,98.56 177.05,98.56 173.05,105.56" fill="#9a9a9a"/>
<polygon points="178.6,89.81 186.6,89.81 182.6,96.81" fill="#9a9a9a"/>
<polygon points="188.15,80.16 196.15,80.16 192.15,87.16" fill="#9a9a9a"/>
<polygon points="197.7,72.98 205.7,72.98 201.7,79.98" fill="#9a9a9a"/>
<polygon points="207.25,67.37 215.25,67.37 211.25,74.37" fill="#9a9a9a"/>
<polygon points="216.8,65.69 224.8,65.69 220.8,72.69" fill="#9a9a9a"/>
<polygon points="226.35,69.05 234.35,69.05 230.35,76.05" fill="#9a9a9a"/>
<polygon points="235.9,70.17 243.9,70.17 239.9,77.17" fill="#9a9a9a"/>
<polygon points="245.45,72.42 253.45,72.42 249.45,79.42" fill="#9a9a9a"/>
<polygon points="255,75.45 263,75.45 259,82.45" fill="#9a9a9a"/>
<polygon points="264.55,81.96 272.55,81.96 268.55,88.96" fill="#9a9a9a"/>
<polygon points="274.1,88.13 282.1,88.13 278.1,95.13" fill="#9a9a9a"/>
<polygon points="283.65,92.05 291.65,92.05 287.65,99.05" fill="#9a9a9a"/>
<path d="M68,9 H288 V166 H68 Z" fill="none" stroke="#868686" stroke-width="1.4"/>
<line x1="65" y1="20.38" x2="68" y2="20.38" stroke="#868686" stroke-width="1.2"/>
<text x="58.5" y="24.58" font-family="Liberation Sans, sans-serif" font-weight="bold" font-size="12" text-anchor="end" fill="#111" >.6</text>
<line x1="65" y1="42.82" x2="68" y2="42.82" stroke="#868686" stroke-width="1.2"/>
<text x="58.5" y="47.02" font-family="Liberation Sans, sans-serif" font-weight="bold" font-size="12" text-anchor="end" fill="#111" >.4</text>
<line x1="65" y1="65.26" x2="68" y2="65.26" stroke="#868686" stroke-width="1.2"/>
<text x="58.5" y="69.46" font-family="Liberation Sans, sans-serif" font-weight="bold" font-size="12" text-anchor="end" fill="#111" >.2</text>
<line x1="65" y1="87.7" x2="68" y2="87.7" stroke="#868686" stroke-width="1.2"/>
<text x="58.5" y="91.9" font-family="Liberation Sans, sans-serif" font-weight="bold" font-size="12" text-anchor="end" fill="#111" >0.0</text>
<line x1="65" y1="110.14" x2="68" y2="110.14" stroke="#868686" stroke-width="1.2"/>
<text x="58.5" y="114.34" font-family="Liberation Sans, sans-serif" font-weight="bold" font-size="12" text-anchor="end" fill="#111" >-.2</text>
<line x1="65" y1="132.58" x2="68" y2="132.58" stroke="#868686" stroke-width="1.2"/>
<text x="58.5" y="136.78" font-family="Liberation Sans, sans-serif" font-weight="bold" font-size="12" text-anchor="end" fill="#111" >-.4</text>
<line x1="65" y1="155.02" x2="68" y2="155.02" stroke="#868686" stroke-width="1.2"/>
<text x="58.5" y="159.22" font-family="Liberation Sans, sans-serif" font-weight="bold" font-size="12" text-anchor="end" fill="#111" >-.6</text>
<line x1="68" y1="166" x2="68" y2="169" stroke="#868686" stroke-width="1.2"/>
<text x="68.3" y="186" font-family="Liberation Sans, sans-serif" font-weight="bold" font-size="11.8" text-anchor="middle" fill="#111" >0</text>
<line x1="87.1" y1="166" x2="87.1" y2="169" stroke="#868686" stroke-width="1.2"/>
<text x="87.4" y="186" font-family="Liberation Sans, sans-serif" font-weight="bold" font-size="11.8" text-anchor="middle" fill="#111" >2</text>
<line x1="106.2" y1="166" x2="106.2" y2="169" stroke="#868686" stroke-width="1.2"/>
<text x="106.5" y="186" font-family="Liberation Sans, sans-serif" font-weight="bold" font-size="11.8" text-anchor="middle" fill="#111" >4</text>
<line x1="125.3" y1="166" x2="125.3" y2="169" stroke="#868686" stroke-width="1.2"/>
<text x="125.6" y="186" font-family="Liberation Sans, sans-serif" font-weight="bold" font-size="11.8" text-anchor="middle" fill="#111" >6</text>
<line x1="144.4" y1="166" x2="144.4" y2="169" stroke="#868686" stroke-width="1.2"/>
<text x="144.7" y="186" font-family="Liberation Sans, sans-serif" font-weight="bold" font-size="11.8" text-anchor="middle" fill="#111" >8</text>
<line x1="163.5" y1="166" x2="163.5" y2="169" stroke="#868686" stroke-width="1.2"/>
<text x="163.8" y="186" font-family="Liberation Sans, sans-serif" font-weight="bold" font-size="11.8" text-anchor="middle" fill="#111" >10</text>
<line x1="182.6" y1="166" x2="182.6" y2="169" stroke="#868686" stroke-width="1.2"/>
<text x="182.9" y="186" font-family="Liberation Sans, sans-serif" font-weight="bold" font-size="11.8" text-anchor="middle" fill="#111" >12</text>
<line x1="201.7" y1="166" x2="201.7" y2="169" stroke="#868686" stroke-width="1.2"/>
<text x="202" y="186" font-family="Liberation Sans, sans-serif" font-weight="bold" font-size="11.8" text-anchor="middle" fill="#111" >14</text>
<line x1="220.8" y1="166" x2="220.8" y2="169" stroke="#868686" stroke-width="1.2"/>
<text x="221.1" y="186" font-family="Liberation Sans, sans-serif" font-weight="bold" font-size="11.8" text-anchor="middle" fill="#111" >16</text>
<line x1="239.9" y1="166" x2="239.9" y2="169" stroke="#868686" stroke-width="1.2"/>
<text x="240.2" y="186" font-family="Liberation Sans, sans-serif" font-weight="bold" font-size="11.8" text-anchor="middle" fill="#111" >18</text>
<line x1="259" y1="166" x2="259" y2="169" stroke="#868686" stroke-width="1.2"/>
<text x="259.3" y="186" font-family="Liberation Sans, sans-serif" font-weight="bold" font-size="11.8" text-anchor="middle" fill="#111" >20</text>
<line x1="278.1" y1="166" x2="278.1" y2="169" stroke="#868686" stroke-width="1.2"/>
<text x="278.4" y="186" font-family="Liberation Sans, sans-serif" font-weight="bold" font-size="11.8" text-anchor="middle" fill="#111" >22</text>
<text x="181.5" y="201" font-family="Liberation Sans, sans-serif" font-weight="bold" font-size="12" text-anchor="middle" fill="#111" >Beijing time(hr)</text>
<text x="282.5" y="23" font-family="Liberation Sans, sans-serif" font-weight="bold" font-size="11.5" text-anchor="end" fill="#111" >(a)</text>
<text transform="translate(12.5,86.8) rotate(-90)" font-family="Liberation Sans, sans-serif" font-weight="bold" font-size="12.4" text-anchor="middle" fill="#111">Wind components of</text>
<text transform="translate(34.8,80.7) rotate(-90)" font-family="Liberation Sans, sans-serif" font-weight="bold" font-size="12.5" text-anchor="middle" fill="#111">local circulation (m/s)</text>
<line x1="72" y1="124" x2="92" y2="124" stroke="#0f93d2" stroke-width="1"/>
<circle cx="81.5" cy="124" r="4" fill="#0f93d2"/>
<polygon points="77.5,132.9 85.5,132.9 81.5,139.9" fill="#0f93d2"/>
<line x1="72" y1="148" x2="92" y2="148" stroke="#9a9a9a" stroke-width="1"/>
<circle cx="81.5" cy="148" r="4" fill="#9a9a9a"/>
<polygon points="77.5,157 85.5,157 81.5,164" fill="#9a9a9a"/>
<text x="97.3" y="127.4" font-family="Liberation Sans, sans-serif" font-weight="bold" font-size="9" text-anchor="start" fill="#111" >E-W component (clean )</text>
<text x="97.3" y="139.2" font-family="Liberation Sans, sans-serif" font-weight="bold" font-size="9" text-anchor="start" fill="#111" >N-S component (clean)</text>
<text x="97.3" y="151.1" font-family="Liberation Sans, sans-serif" font-weight="bold" font-size="9" text-anchor="start" fill="#111" >E-W component (polluted)</text>
<text x="97.3" y="162.9" font-family="Liberation Sans, sans-serif" font-weight="bold" font-size="9" text-anchor="start" fill="#111" >N-S component (polluted)</text>
<line x1="356.5" y1="10" x2="356.5" y2="165" stroke="#ebebeb" stroke-width="1" stroke-dasharray="1,2"/>
<line x1="374.76" y1="10" x2="374.76" y2="165" stroke="#ebebeb" stroke-width="1" stroke-dasharray="1,2"/>
<line x1="393.02" y1="10" x2="393.02" y2="165" stroke="#ebebeb" stroke-width="1" stroke-dasharray="1,2"/>
<line x1="411.28" y1="10" x2="411.28" y2="165" stroke="#ebebeb" stroke-width="1" stroke-dasharray="1,2"/>
<line x1="429.54" y1="10" x2="429.54" y2="165" stroke="#ebebeb" stroke-width="1" stroke-dasharray="1,2"/>
<line x1="447.8" y1="10" x2="447.8" y2="165" stroke="#ebebeb" stroke-width="1" stroke-dasharray="1,2"/>
<line x1="466.06" y1="10" x2="466.06" y2="165" stroke="#ebebeb" stroke-width="1" stroke-dasharray="1,2"/>
<line x1="484.32" y1="10" x2="484.32" y2="165" stroke="#ebebeb" stroke-width="1" stroke-dasharray="1,2"/>
<line x1="502.58" y1="10" x2="502.58" y2="165" stroke="#ebebeb" stroke-width="1" stroke-dasharray="1,2"/>
<line x1="520.84" y1="10" x2="520.84" y2="165" stroke="#ebebeb" stroke-width="1" stroke-dasharray="1,2"/>
<line x1="539.1" y1="10" x2="539.1" y2="165" stroke="#ebebeb" stroke-width="1" stroke-dasharray="1,2"/>
<line x1="557.36" y1="10" x2="557.36" y2="165" stroke="#ebebeb" stroke-width="1" stroke-dasharray="1,2"/>
<rect x="355" y="76.72" width="3" height="89.28" fill="#c8c8c8"/>
<line x1="356.5" y1="70.84" x2="356.5" y2="76.72" stroke="#cdcdcd" stroke-width="1"/>
<line x1="354.7" y1="70.84" x2="358.3" y2="70.84" stroke="#cdcdcd" stroke-width="1"/>
<line x1="354.7" y1="76.72" x2="358.3" y2="76.72" stroke="#cdcdcd" stroke-width="1"/>
<rect x="352" y="136.31" width="3" height="29.69" fill="#0f93d2"/>
<line x1="353.5" y1="131.41" x2="353.5" y2="136.31" stroke="#5ab6dc" stroke-width="1"/>
<line x1="351.5" y1="131.41" x2="355.5" y2="131.41" stroke="#5ab6dc" stroke-width="1"/>
<line x1="351.5" y1="136.31" x2="355.5" y2="136.31" stroke="#5ab6dc" stroke-width="1"/>
<rect x="364.13" y="79.76" width="3" height="86.24" fill="#c8c8c8"/>
<line x1="365.63" y1="73.98" x2="365.63" y2="79.76" stroke="#cdcdcd" stroke-width="1"/>
<line x1="363.83" y1="73.98" x2="367.43" y2="73.98" stroke="#cdcdcd" stroke-width="1"/>
<line x1="363.83" y1="79.76" x2="367.43" y2="79.76" stroke="#cdcdcd" stroke-width="1"/>
<rect x="361.13" y="137.78" width="3" height="28.22" fill="#0f93d2"/>
<line x1="362.63" y1="133.95" x2="362.63" y2="137.78" stroke="#5ab6dc" stroke-width="1"/>
<line x1="360.63" y1="133.95" x2="364.63" y2="133.95" stroke="#5ab6dc" stroke-width="1"/>
<line x1="360.63" y1="137.78" x2="364.63" y2="137.78" stroke="#5ab6dc" stroke-width="1"/>
<rect x="373.26" y="79.76" width="3" height="86.24" fill="#c8c8c8"/>
<line x1="374.76" y1="74.37" x2="374.76" y2="79.76" stroke="#cdcdcd" stroke-width="1"/>
<line x1="372.96" y1="74.37" x2="376.56" y2="74.37" stroke="#cdcdcd" stroke-width="1"/>
<line x1="372.96" y1="79.76" x2="376.56" y2="79.76" stroke="#cdcdcd" stroke-width="1"/>
<rect x="370.26" y="140.72" width="3" height="25.28" fill="#0f93d2"/>
<line x1="371.76" y1="135.42" x2="371.76" y2="140.72" stroke="#5ab6dc" stroke-width="1"/>
<line x1="369.76" y1="135.42" x2="373.76" y2="135.42" stroke="#5ab6dc" stroke-width="1"/>
<line x1="369.76" y1="140.72" x2="373.76" y2="140.72" stroke="#5ab6dc" stroke-width="1"/>
<rect x="382.39" y="81.72" width="3" height="84.28" fill="#c8c8c8"/>
<line x1="383.89" y1="76.33" x2="383.89" y2="81.72" stroke="#cdcdcd" stroke-width="1"/>
<line x1="382.09" y1="76.33" x2="385.69" y2="76.33" stroke="#cdcdcd" stroke-width="1"/>
<line x1="382.09" y1="81.72" x2="385.69" y2="81.72" stroke="#cdcdcd" stroke-width="1"/>
<rect x="379.39" y="141.99" width="3" height="24.01" fill="#0f93d2"/>
<line x1="380.89" y1="137.87" x2="380.89" y2="141.99" stroke="#5ab6dc" stroke-width="1"/>
<line x1="378.89" y1="137.87" x2="382.89" y2="137.87" stroke="#5ab6dc" stroke-width="1"/>
<line x1="378.89" y1="141.99" x2="382.89" y2="141.99" stroke="#5ab6dc" stroke-width="1"/>
<rect x="391.52" y="82.99" width="3" height="83.01" fill="#c8c8c8"/>
<line x1="393.02" y1="77.6" x2="393.02" y2="82.99" stroke="#cdcdcd" stroke-width="1"/>
<line x1="391.22" y1="77.6" x2="394.82" y2="77.6" stroke="#cdcdcd" stroke-width="1"/>
<line x1="391.22" y1="82.99" x2="394.82" y2="82.99" stroke="#cdcdcd" stroke-width="1"/>
<rect x="388.52" y="142.97" width="3" height="23.03" fill="#0f93d2"/>
<line x1="390.02" y1="138.46" x2="390.02" y2="142.97" stroke="#5ab6dc" stroke-width="1"/>
<line x1="388.02" y1="138.46" x2="392.02" y2="138.46" stroke="#5ab6dc" stroke-width="1"/>
<line x1="388.02" y1="142.97" x2="392.02" y2="142.97" stroke="#5ab6dc" stroke-width="1"/>
<rect x="400.65" y="81.72" width="3" height="84.28" fill="#c8c8c8"/>
<line x1="402.15" y1="76.82" x2="402.15" y2="81.72" stroke="#cdcdcd" stroke-width="1"/>
<line x1="400.35" y1="76.82" x2="403.95" y2="76.82" stroke="#cdcdcd" stroke-width="1"/>
<line x1="400.35" y1="81.72" x2="403.95" y2="81.72" stroke="#cdcdcd" stroke-width="1"/>
<rect x="397.65" y="142.97" width="3" height="23.03" fill="#0f93d2"/>
<line x1="399.15" y1="140.03" x2="399.15" y2="142.97" stroke="#5ab6dc" stroke-width="1"/>
<line x1="397.15" y1="140.03" x2="401.15" y2="140.03" stroke="#5ab6dc" stroke-width="1"/>
<line x1="397.15" y1="142.97" x2="401.15" y2="142.97" stroke="#5ab6dc" stroke-width="1"/>
<rect x="409.78" y="81.72" width="3" height="84.28" fill="#c8c8c8"/>
<line x1="411.28" y1="75.84" x2="411.28" y2="81.72" stroke="#cdcdcd" stroke-width="1"/>
<line x1="409.48" y1="75.84" x2="413.08" y2="75.84" stroke="#cdcdcd" stroke-width="1"/>
<line x1="409.48" y1="81.72" x2="413.08" y2="81.72" stroke="#cdcdcd" stroke-width="1"/>
<rect x="406.78" y="142.58" width="3" height="23.42" fill="#0f93d2"/>
<line x1="408.28" y1="139.15" x2="408.28" y2="142.58" stroke="#5ab6dc" stroke-width="1"/>
<line x1="406.28" y1="139.15" x2="410.28" y2="139.15" stroke="#5ab6dc" stroke-width="1"/>
<line x1="406.28" y1="142.58" x2="410.28" y2="142.58" stroke="#5ab6dc" stroke-width="1"/>
<rect x="418.91" y="79.56" width="3" height="86.44" fill="#c8c8c8"/>
<line x1="420.41" y1="73.19" x2="420.41" y2="79.56" stroke="#cdcdcd" stroke-width="1"/>
<line x1="418.61" y1="73.19" x2="422.21" y2="73.19" stroke="#cdcdcd" stroke-width="1"/>
<line x1="418.61" y1="79.56" x2="422.21" y2="79.56" stroke="#cdcdcd" stroke-width="1"/>
<rect x="415.91" y="140.52" width="3" height="25.48" fill="#0f93d2"/>
<line x1="417.41" y1="137.09" x2="417.41" y2="140.52" stroke="#5ab6dc" stroke-width="1"/>
<line x1="415.41" y1="137.09" x2="419.41" y2="137.09" stroke="#5ab6dc" stroke-width="1"/>
<line x1="415.41" y1="140.52" x2="419.41" y2="140.52" stroke="#5ab6dc" stroke-width="1"/>
<rect x="428.04" y="67.71" width="3" height="98.29" fill="#c8c8c8"/>
<line x1="429.54" y1="60.16" x2="429.54" y2="67.71" stroke="#cdcdcd" stroke-width="1"/>
<line x1="427.74" y1="60.16" x2="431.34" y2="60.16" stroke="#cdcdcd" stroke-width="1"/>
<line x1="427.74" y1="67.71" x2="431.34" y2="67.71" stroke="#cdcdcd" stroke-width="1"/>
<rect x="425.04" y="137.78" width="3" height="28.22" fill="#0f93d2"/>
<line x1="426.54" y1="132.39" x2="426.54" y2="137.78" stroke="#5ab6dc" stroke-width="1"/>
<line x1="424.54" y1="132.39" x2="428.54" y2="132.39" stroke="#5ab6dc" stroke-width="1"/>
<line x1="424.54" y1="137.78" x2="428.54" y2="137.78" stroke="#5ab6dc" stroke-width="1"/>
<rect x="437.17" y="51.54" width="3" height="114.46" fill="#c8c8c8"/>
<line x1="438.67" y1="43.4" x2="438.67" y2="51.54" stroke="#cdcdcd" stroke-width="1"/>
<line x1="436.87" y1="43.4" x2="440.47" y2="43.4" stroke="#cdcdcd" stroke-width="1"/>
<line x1="436.87" y1="51.54" x2="440.47" y2="51.54" stroke="#cdcdcd" stroke-width="1"/>
<rect x="434.17" y="135.33" width="3" height="30.67" fill="#0f93d2"/>
<line x1="435.67" y1="130.52" x2="435.67" y2="135.33" stroke="#5ab6dc" stroke-width="1"/>
<line x1="433.67" y1="130.52" x2="437.67" y2="130.52" stroke="#5ab6dc" stroke-width="1"/>
<line x1="433.67" y1="135.33" x2="437.67" y2="135.33" stroke="#5ab6dc" stroke-width="1"/>
<rect x="446.3" y="49.97" width="3" height="116.03" fill="#c8c8c8"/>
<line x1="447.8" y1="43.11" x2="447.8" y2="49.97" stroke="#cdcdcd" stroke-width="1"/>
<line x1="446" y1="43.11" x2="449.6" y2="43.11" stroke="#cdcdcd" stroke-width="1"/>
<line x1="446" y1="49.97" x2="449.6" y2="49.97" stroke="#cdcdcd" stroke-width="1"/>
<rect x="443.3" y="137.78" width="3" height="28.22" fill="#0f93d2"/>
<line x1="444.8" y1="133.46" x2="444.8" y2="137.78" stroke="#5ab6dc" stroke-width="1"/>
<line x1="442.8" y1="133.46" x2="446.8" y2="133.46" stroke="#5ab6dc" stroke-width="1"/>
<line x1="442.8" y1="137.78" x2="446.8" y2="137.78" stroke="#5ab6dc" stroke-width="1"/>
<rect x="455.43" y="53.79" width="3" height="112.21" fill="#c8c8c8"/>
<line x1="456.93" y1="46.24" x2="456.93" y2="53.79" stroke="#cdcdcd" stroke-width="1"/>
<line x1="455.13" y1="46.24" x2="458.73" y2="46.24" stroke="#cdcdcd" stroke-width="1"/>
<line x1="455.13" y1="53.79" x2="458.73" y2="53.79" stroke="#cdcdcd" stroke-width="1"/>
<rect x="452.43" y="137.58" width="3" height="28.42" fill="#0f93d2"/>
<line x1="453.93" y1="133.76" x2="453.93" y2="137.58" stroke="#5ab6dc" stroke-width="1"/>
<line x1="451.93" y1="133.76" x2="455.93" y2="133.76" stroke="#5ab6dc" stroke-width="1"/>
<line x1="451.93" y1="137.58" x2="455.93" y2="137.58" stroke="#5ab6dc" stroke-width="1"/>
<rect x="464.56" y="56.44" width="3" height="109.56" fill="#c8c8c8"/>
<line x1="466.06" y1="49.09" x2="466.06" y2="56.44" stroke="#cdcdcd" stroke-width="1"/>
<line x1="464.26" y1="49.09" x2="467.86" y2="49.09" stroke="#cdcdcd" stroke-width="1"/>
<line x1="464.26" y1="56.44" x2="467.86" y2="56.44" stroke="#cdcdcd" stroke-width="1"/>
<rect x="461.56" y="138.95" width="3" height="27.05" fill="#0f93d2"/>
<line x1="463.06" y1="136.01" x2="463.06" y2="138.95" stroke="#5ab6dc" stroke-width="1"/>
<line x1="461.06" y1="136.01" x2="465.06" y2="136.01" stroke="#5ab6dc" stroke-width="1"/>
<line x1="461.06" y1="138.95" x2="465.06" y2="138.95" stroke="#5ab6dc" stroke-width="1"/>
<rect x="473.69" y="62.02" width="3" height="103.98" fill="#c8c8c8"/>
<line x1="475.19" y1="54.18" x2="475.19" y2="62.02" stroke="#cdcdcd" stroke-width="1"/>
<line x1="473.39" y1="54.18" x2="476.99" y2="54.18" stroke="#cdcdcd" stroke-width="1"/>
<line x1="473.39" y1="62.02" x2="476.99" y2="62.02" stroke="#cdcdcd" stroke-width="1"/>
<rect x="470.69" y="137.58" width="3" height="28.42" fill="#0f93d2"/>
<line x1="472.19" y1="131.7" x2="472.19" y2="137.58" stroke="#5ab6dc" stroke-width="1"/>
<line x1="470.19" y1="131.7" x2="474.19" y2="131.7" stroke="#5ab6dc" stroke-width="1"/>
<line x1="470.19" y1="137.58" x2="474.19" y2="137.58" stroke="#5ab6dc" stroke-width="1"/>
<rect x="482.82" y="64.37" width="3" height="101.63" fill="#c8c8c8"/>
<line x1="484.32" y1="57.51" x2="484.32" y2="64.37" stroke="#cdcdcd" stroke-width="1"/>
<line x1="482.52" y1="57.51" x2="486.12" y2="57.51" stroke="#cdcdcd" stroke-width="1"/>
<line x1="482.52" y1="64.37" x2="486.12" y2="64.37" stroke="#cdcdcd" stroke-width="1"/>
<rect x="479.82" y="136.4" width="3" height="29.6" fill="#0f93d2"/>
<line x1="481.32" y1="132.97" x2="481.32" y2="136.4" stroke="#5ab6dc" stroke-width="1"/>
<line x1="479.32" y1="132.97" x2="483.32" y2="132.97" stroke="#5ab6dc" stroke-width="1"/>
<line x1="479.32" y1="136.4" x2="483.32" y2="136.4" stroke="#5ab6dc" stroke-width="1"/>
<rect x="491.95" y="69.57" width="3" height="96.43" fill="#c8c8c8"/>
<line x1="493.45" y1="63.39" x2="493.45" y2="69.57" stroke="#cdcdcd" stroke-width="1"/>
<line x1="491.65" y1="63.39" x2="495.25" y2="63.39" stroke="#cdcdcd" stroke-width="1"/>
<line x1="491.65" y1="69.57" x2="495.25" y2="69.57" stroke="#cdcdcd" stroke-width="1"/>
<rect x="488.95" y="135.62" width="3" height="30.38" fill="#0f93d2"/>
<line x1="490.45" y1="129.15" x2="490.45" y2="135.62" stroke="#5ab6dc" stroke-width="1"/>
<line x1="488.45" y1="129.15" x2="492.45" y2="129.15" stroke="#5ab6dc" stroke-width="1"/>
<line x1="488.45" y1="135.62" x2="492.45" y2="135.62" stroke="#5ab6dc" stroke-width="1"/>
<rect x="501.08" y="71.04" width="3" height="94.96" fill="#c8c8c8"/>
<line x1="502.58" y1="65.45" x2="502.58" y2="71.04" stroke="#cdcdcd" stroke-width="1"/>
<line x1="500.78" y1="65.45" x2="504.38" y2="65.45" stroke="#cdcdcd" stroke-width="1"/>
<line x1="500.78" y1="71.04" x2="504.38" y2="71.04" stroke="#cdcdcd" stroke-width="1"/>
<rect x="498.08" y="136.01" width="3" height="29.99" fill="#0f93d2"/>
<line x1="499.58" y1="130.13" x2="499.58" y2="136.01" stroke="#5ab6dc" stroke-width="1"/>
<line x1="497.58" y1="130.13" x2="501.58" y2="130.13" stroke="#5ab6dc" stroke-width="1"/>
<line x1="497.58" y1="136.01" x2="501.58" y2="136.01" stroke="#5ab6dc" stroke-width="1"/>
<rect x="510.21" y="71.43" width="3" height="94.57" fill="#c8c8c8"/>
<line x1="511.71" y1="65.84" x2="511.71" y2="71.43" stroke="#cdcdcd" stroke-width="1"/>
<line x1="509.91" y1="65.84" x2="513.51" y2="65.84" stroke="#cdcdcd" stroke-width="1"/>
<line x1="509.91" y1="71.43" x2="513.51" y2="71.43" stroke="#cdcdcd" stroke-width="1"/>
<rect x="507.21" y="136.4" width="3" height="29.6" fill="#0f93d2"/>
<line x1="508.71" y1="131.5" x2="508.71" y2="136.4" stroke="#5ab6dc" stroke-width="1"/>
<line x1="506.71" y1="131.5" x2="510.71" y2="131.5" stroke="#5ab6dc" stroke-width="1"/>
<line x1="506.71" y1="136.4" x2="510.71" y2="136.4" stroke="#5ab6dc" stroke-width="1"/>
<rect x="519.34" y="69.96" width="3" height="96.04" fill="#c8c8c8"/>
<line x1="520.84" y1="64.67" x2="520.84" y2="69.96" stroke="#cdcdcd" stroke-width="1"/>
<line x1="519.04" y1="64.67" x2="522.64" y2="64.67" stroke="#cdcdcd" stroke-width="1"/>
<line x1="519.04" y1="69.96" x2="522.64" y2="69.96" stroke="#cdcdcd" stroke-width="1"/>
<rect x="516.34" y="135.03" width="3" height="30.97" fill="#0f93d2"/>
<line x1="517.84" y1="130.13" x2="517.84" y2="135.03" stroke="#5ab6dc" stroke-width="1"/>
<line x1="515.84" y1="130.13" x2="519.84" y2="130.13" stroke="#5ab6dc" stroke-width="1"/>
<line x1="515.84" y1="135.03" x2="519.84" y2="135.03" stroke="#5ab6dc" stroke-width="1"/>
<rect x="528.47" y="68" width="3" height="98" fill="#c8c8c8"/>
<line x1="529.97" y1="62.41" x2="529.97" y2="68" stroke="#cdcdcd" stroke-width="1"/>
<line x1="528.17" y1="62.41" x2="531.77" y2="62.41" stroke="#cdcdcd" stroke-width="1"/>
<line x1="528.17" y1="68" x2="531.77" y2="68" stroke="#cdcdcd" stroke-width="1"/>
<rect x="525.47" y="134.64" width="3" height="31.36" fill="#0f93d2"/>
<line x1="526.97" y1="128.27" x2="526.97" y2="134.64" stroke="#5ab6dc" stroke-width="1"/>
<line x1="524.97" y1="128.27" x2="528.97" y2="128.27" stroke="#5ab6dc" stroke-width="1"/>
<line x1="524.97" y1="134.64" x2="528.97" y2="134.64" stroke="#5ab6dc" stroke-width="1"/>
<rect x="537.6" y="62.41" width="3" height="103.59" fill="#c8c8c8"/>
<line x1="539.1" y1="57.02" x2="539.1" y2="62.41" stroke="#cdcdcd" stroke-width="1"/>
<line x1="537.3" y1="57.02" x2="540.9" y2="57.02" stroke="#cdcdcd" stroke-width="1"/>
<line x1="537.3" y1="62.41" x2="540.9" y2="62.41" stroke="#cdcdcd" stroke-width="1"/>
<rect x="534.6" y="133.17" width="3" height="32.83" fill="#0f93d2"/>
<line x1="536.1" y1="128.27" x2="536.1" y2="133.17" stroke="#5ab6dc" stroke-width="1"/>
<line x1="534.1" y1="128.27" x2="538.1" y2="128.27" stroke="#5ab6dc" stroke-width="1"/>
<line x1="534.1" y1="133.17" x2="538.1" y2="133.17" stroke="#5ab6dc" stroke-width="1"/>
<rect x="546.73" y="65.06" width="3" height="100.94" fill="#c8c8c8"/>
<line x1="548.23" y1="59.18" x2="548.23" y2="65.06" stroke="#cdcdcd" stroke-width="1"/>
<line x1="546.43" y1="59.18" x2="550.03" y2="59.18" stroke="#cdcdcd" stroke-width="1"/>
<line x1="546.43" y1="65.06" x2="550.03" y2="65.06" stroke="#cdcdcd" stroke-width="1"/>
<rect x="543.73" y="131.99" width="3" height="34.01" fill="#0f93d2"/>
<line x1="545.23" y1="126.6" x2="545.23" y2="131.99" stroke="#5ab6dc" stroke-width="1"/>
<line x1="543.23" y1="126.6" x2="547.23" y2="126.6" stroke="#5ab6dc" stroke-width="1"/>
<line x1="543.23" y1="131.99" x2="547.23" y2="131.99" stroke="#5ab6dc" stroke-width="1"/>
<rect x="555.86" y="71.04" width="3" height="94.96" fill="#c8c8c8"/>
<line x1="557.36" y1="65.45" x2="557.36" y2="71.04" stroke="#cdcdcd" stroke-width="1"/>
<line x1="555.56" y1="65.45" x2="559.16" y2="65.45" stroke="#cdcdcd" stroke-width="1"/>
<line x1="555.56" y1="71.04" x2="559.16" y2="71.04" stroke="#cdcdcd" stroke-width="1"/>
<rect x="552.86" y="131.6" width="3" height="34.4" fill="#0f93d2"/>
<line x1="554.36" y1="126.51" x2="554.36" y2="131.6" stroke="#5ab6dc" stroke-width="1"/>
<line x1="552.36" y1="126.51" x2="556.36" y2="126.51" stroke="#5ab6dc" stroke-width="1"/>
<line x1="552.36" y1="131.6" x2="556.36" y2="131.6" stroke="#5ab6dc" stroke-width="1"/>
<rect x="564.99" y="74.96" width="3" height="91.04" fill="#c8c8c8"/>
<line x1="566.49" y1="69.57" x2="566.49" y2="74.96" stroke="#cdcdcd" stroke-width="1"/>
<line x1="564.69" y1="69.57" x2="568.29" y2="69.57" stroke="#cdcdcd" stroke-width="1"/>
<line x1="564.69" y1="74.96" x2="568.29" y2="74.96" stroke="#cdcdcd" stroke-width="1"/>
<rect x="561.99" y="131.99" width="3" height="34.01" fill="#0f93d2"/>
<line x1="563.49" y1="125.62" x2="563.49" y2="131.99" stroke="#5ab6dc" stroke-width="1"/>
<line x1="561.49" y1="125.62" x2="565.49" y2="125.62" stroke="#5ab6dc" stroke-width="1"/>
<line x1="561.49" y1="131.99" x2="565.49" y2="131.99" stroke="#5ab6dc" stroke-width="1"/>
<path d="M350,9 H570.5 V166 H350 Z" fill="none" stroke="#868686" stroke-width="1.4"/>
<line x1="347" y1="166" x2="350" y2="166" stroke="#868686" stroke-width="1.2"/>
<text x="341" y="170.1" font-family="Liberation Sans, sans-serif" font-weight="bold" font-size="11.2" text-anchor="end" fill="#111" >0</text>
<line x1="347" y1="146.4" x2="350" y2="146.4" stroke="#868686" stroke-width="1.2"/>
<text x="341" y="150.5" font-family="Liberation Sans, sans-serif" font-weight="bold" font-size="11.2" text-anchor="end" fill="#111" >20</text>
<line x1="347" y1="126.8" x2="350" y2="126.8" stroke="#868686" stroke-width="1.2"/>
<text x="341" y="130.9" font-family="Liberation Sans, sans-serif" font-weight="bold" font-size="11.2" text-anchor="end" fill="#111" >40</text>
<line x1="347" y1="107.2" x2="350" y2="107.2" stroke="#868686" stroke-width="1.2"/>
<text x="341" y="111.3" font-family="Liberation Sans, sans-serif" font-weight="bold" font-size="11.2" text-anchor="end" fill="#111" >60</text>
<line x1="347" y1="87.6" x2="350" y2="87.6" stroke="#868686" stroke-width="1.2"/>
<text x="341" y="91.7" font-family="Liberation Sans, sans-serif" font-weight="bold" font-size="11.2" text-anchor="end" fill="#111" >80</text>
<line x1="347" y1="68" x2="350" y2="68" stroke="#868686" stroke-width="1.2"/>
<text x="341" y="72.1" font-family="Liberation Sans, sans-serif" font-weight="bold" font-size="11.2" text-anchor="end" fill="#111" >100</text>
<line x1="347" y1="48.4" x2="350" y2="48.4" stroke="#868686" stroke-width="1.2"/>
<text x="341" y="52.5" font-family="Liberation Sans, sans-serif" font-weight="bold" font-size="11.2" text-anchor="end" fill="#111" >120</text>
<line x1="347" y1="28.8" x2="350" y2="28.8" stroke="#868686" stroke-width="1.2"/>
<text x="341" y="32.9" font-family="Liberation Sans, sans-serif" font-weight="bold" font-size="11.2" text-anchor="end" fill="#111" >140</text>
<line x1="347" y1="9.2" x2="350" y2="9.2" stroke="#868686" stroke-width="1.2"/>
<text x="341" y="13.3" font-family="Liberation Sans, sans-serif" font-weight="bold" font-size="11.2" text-anchor="end" fill="#111" >160</text>
<line x1="355" y1="166" x2="355" y2="169" stroke="#868686" stroke-width="1.2"/>
<text x="355" y="186" font-family="Liberation Sans, sans-serif" font-weight="bold" font-size="11.5" text-anchor="middle" fill="#111" >0</text>
<line x1="373.26" y1="166" x2="373.26" y2="169" stroke="#868686" stroke-width="1.2"/>
<text x="373.26" y="186" font-family="Liberation Sans, sans-serif" font-weight="bold" font-size="11.5" text-anchor="middle" fill="#111" >2</text>
<line x1="391.52" y1="166" x2="391.52" y2="169" stroke="#868686" stroke-width="1.2"/>
<text x="391.52" y="186" font-family="Liberation Sans, sans-serif" font-weight="bold" font-size="11.5" text-anchor="middle" fill="#111" >4</text>
<line x1="409.78" y1="166" x2="409.78" y2="169" stroke="#868686" stroke-width="1.2"/>
<text x="409.78" y="186" font-family="Liberation Sans, sans-serif" font-weight="bold" font-size="11.5" text-anchor="middle" fill="#111" >6</text>
<line x1="428.04" y1="166" x2="428.04" y2="169" stroke="#868686" stroke-width="1.2"/>
<text x="428.04" y="186" font-family="Liberation Sans, sans-serif" font-weight="bold" font-size="11.5" text-anchor="middle" fill="#111" >8</text>
<line x1="446.3" y1="166" x2="446.3" y2="169" stroke="#868686" stroke-width="1.2"/>
<text x="446.3" y="186" font-family="Liberation Sans, sans-serif" font-weight="bold" font-size="11.5" text-anchor="middle" fill="#111" >10</text>
<line x1="464.56" y1="166" x2="464.56" y2="169" stroke="#868686" stroke-width="1.2"/>
<text x="464.56" y="186" font-family="Liberation Sans, sans-serif" font-weight="bold" font-size="11.5" text-anchor="middle" fill="#111" >12</text>
<line x1="482.82" y1="166" x2="482.82" y2="169" stroke="#868686" stroke-width="1.2"/>
<text x="482.82" y="186" font-family="Liberation Sans, sans-serif" font-weight="bold" font-size="11.5" text-anchor="middle" fill="#111" >14</text>
<line x1="501.08" y1="166" x2="501.08" y2="169" stroke="#868686" stroke-width="1.2"/>
<text x="501.08" y="186" font-family="Liberation Sans, sans-serif" font-weight="bold" font-size="11.5" text-anchor="middle" fill="#111" >16</text>
<line x1="519.34" y1="166" x2="519.34" y2="169" stroke="#868686" stroke-width="1.2"/>
<text x="519.34" y="186" font-family="Liberation Sans, sans-serif" font-weight="bold" font-size="11.5" text-anchor="middle" fill="#111" >18</text>
<line x1="537.6" y1="166" x2="537.6" y2="169" stroke="#868686" stroke-width="1.2"/>
<text x="537.6" y="186" font-family="Liberation Sans, sans-serif" font-weight="bold" font-size="11.5" text-anchor="middle" fill="#111" >20</text>
<line x1="555.86" y1="166" x2="555.86" y2="169" stroke="#868686" stroke-width="1.2"/>
<text x="555.86" y="186" font-family="Liberation Sans, sans-serif" font-weight="bold" font-size="11.5" text-anchor="middle" fill="#111" >22</text>
<text x="465.5" y="200.5" font-family="Liberation Sans, sans-serif" font-weight="bold" font-size="12" text-anchor="middle" fill="#111" >Beijing time</text>
<text x="563.2" y="25.8" font-family="Liberation Sans, sans-serif" font-weight="bold" font-size="12.3" text-anchor="end" fill="#111" >(b)</text>
<rect x="356" y="16" width="23" height="5" fill="#0f93d2"/>
<rect x="356" y="31.5" width="23" height="5" fill="#c8c8c8"/>
<text x="384.5" y="20.4" font-family="Liberation Sans, sans-serif" font-weight="bold" font-size="10" fill="#111">PM<tspan font-size="9.3" dy="3">2.5</tspan><tspan dy="-3" font-size="9.8"> (clean day )</tspan></text>
<text x="384.5" y="36.6" font-family="Liberation Sans, sans-serif" font-weight="bold" font-size="10" fill="#111">PM<tspan font-size="9.3" dy="3">2.5</tspan><tspan dy="-3" font-size="9.8"> (polluted day)</tspan></text>
<text transform="translate(316.2,170.6) rotate(-90)" font-family="Liberation Sans, sans-serif" font-weight="bold" font-size="12.4" fill="#111">PM<tspan font-size="12.4" dy="3.5">2.5</tspan><tspan dy="-3.5"> concentration (μg/m</tspan><tspan font-size="8.5" dy="-5.5">3</tspan><tspan dy="5.5">)</tspan></text>
<line x1="70.6" y1="221.5" x2="70.6" y2="375.6" stroke="#cccccc" stroke-width="1" stroke-dasharray="1,2"/>
<line x1="88.89" y1="221.5" x2="88.89" y2="375.6" stroke="#cccccc" stroke-width="1" stroke-dasharray="1,2"/>
<line x1="107.18" y1="221.5" x2="107.18" y2="375.6" stroke="#cccccc" stroke-width="1" stroke-dasharray="1,2"/>
<line x1="125.47" y1="221.5" x2="125.47" y2="375.6" stroke="#cccccc" stroke-width="1" stroke-dasharray="1,2"/>
<line x1="143.76" y1="221.5" x2="143.76" y2="375.6" stroke="#cccccc" stroke-width="1" stroke-dasharray="1,2"/>
<line x1="162.05" y1="221.5" x2="162.05" y2="375.6" stroke="#cccccc" stroke-width="1" stroke-dasharray="1,2"/>
<line x1="180.34" y1="221.5" x2="180.34" y2="375.6" stroke="#cccccc" stroke-width="1" stroke-dasharray="1,2"/>
<line x1="198.63" y1="221.5" x2="198.63" y2="375.6" stroke="#cccccc" stroke-width="1" stroke-dasharray="1,2"/>
<line x1="216.92" y1="221.5" x2="216.92" y2="375.6" stroke="#cccccc" stroke-width="1" stroke-dasharray="1,2"/>
<line x1="235.21" y1="221.5" x2="235.21" y2="375.6" stroke="#cccccc" stroke-width="1" stroke-dasharray="1,2"/>
<line x1="253.5" y1="221.5" x2="253.5" y2="375.6" stroke="#cccccc" stroke-width="1" stroke-dasharray="1,2"/>
<line x1="271.79" y1="221.5" x2="271.79" y2="375.6" stroke="#cccccc" stroke-width="1" stroke-dasharray="1,2"/>
<polyline points="70.6,295 79.74,293.55 88.89,291.36 98.03,290.32 107.18,289.28 116.32,288.87 125.47,289.28 134.62,289.28 143.76,286.48 152.9,291.36 162.05,297.08 171.19,304.36 180.34,309.25 189.48,313.31 198.63,315.18 207.77,315.91 216.92,315.18 226.06,312.58 235.21,308.63 244.35,306.03 253.5,302.7 262.64,300.41 271.79,298.75 280.93,297.08" fill="none" stroke="#0f93d2" stroke-width="2" stroke-linejoin="round"/>
<circle cx="70.6" cy="295" r="4.5" fill="#0f93d2"/>
<circle cx="79.74" cy="293.55" r="4.5" fill="#0f93d2"/>
<circle cx="88.89" cy="291.36" r="4.5" fill="#0f93d2"/>
<circle cx="98.03" cy="290.32" r="4.5" fill="#0f93d2"/>
<circle cx="107.18" cy="289.28" r="4.5" fill="#0f93d2"/>
<circle cx="116.32" cy="288.87" r="4.5" fill="#0f93d2"/>
<circle cx="125.47" cy="289.28" r="4.5" fill="#0f93d2"/>
<circle cx="134.62" cy="289.28" r="4.5" fill="#0f93d2"/>
<circle cx="143.76" cy="286.48" r="4.5" fill="#0f93d2"/>
<circle cx="152.9" cy="291.36" r="4.5" fill="#0f93d2"/>
<circle cx="162.05" cy="297.08" r="4.5" fill="#0f93d2"/>
<circle cx="171.19" cy="304.36" r="4.5" fill="#0f93d2"/>
<circle cx="180.34" cy="309.25" r="4.5" fill="#0f93d2"/>
<circle cx="189.48" cy="313.31" r="4.5" fill="#0f93d2"/>
<circle cx="198.63" cy="315.18" r="4.5" fill="#0f93d2"/>
<circle cx="207.77" cy="315.91" r="4.5" fill="#0f93d2"/>
<circle cx="216.92" cy="315.18" r="4.5" fill="#0f93d2"/>
<circle cx="226.06" cy="312.58" r="4.5" fill="#0f93d2"/>
<circle cx="235.21" cy="308.63" r="4.5" fill="#0f93d2"/>
<circle cx="244.35" cy="306.03" r="4.5" fill="#0f93d2"/>
<circle cx="253.5" cy="302.7" r="4.5" fill="#0f93d2"/>
<circle cx="262.64" cy="300.41" r="4.5" fill="#0f93d2"/>
<circle cx="271.79" cy="298.75" r="4.5" fill="#0f93d2"/>
<circle cx="280.93" cy="297.08" r="4.5" fill="#0f93d2"/>
<line x1="70.6" y1="263.8" x2="70.6" y2="326.2" stroke="#55b5de" stroke-width="1.2"/>
<line x1="67.1" y1="263.8" x2="74.1" y2="263.8" stroke="#55b5de" stroke-width="1.2"/>
<line x1="67.1" y1="326.2" x2="74.1" y2="326.2" stroke="#55b5de" stroke-width="1.2"/>
<line x1="79.74" y1="263.18" x2="79.74" y2="323.92" stroke="#55b5de" stroke-width="1.2"/>
<line x1="76.24" y1="263.18" x2="83.24" y2="263.18" stroke="#55b5de" stroke-width="1.2"/>
<line x1="76.24" y1="323.92" x2="83.24" y2="323.92" stroke="#55b5de" stroke-width="1.2"/>
<line x1="88.89" y1="262.35" x2="88.89" y2="320.38" stroke="#55b5de" stroke-width="1.2"/>
<line x1="85.39" y1="262.35" x2="92.39" y2="262.35" stroke="#55b5de" stroke-width="1.2"/>
<line x1="85.39" y1="320.38" x2="92.39" y2="320.38" stroke="#55b5de" stroke-width="1.2"/>
<line x1="98.03" y1="261.72" x2="98.03" y2="318.92" stroke="#55b5de" stroke-width="1.2"/>
<line x1="94.53" y1="261.72" x2="101.53" y2="261.72" stroke="#55b5de" stroke-width="1.2"/>
<line x1="94.53" y1="318.92" x2="101.53" y2="318.92" stroke="#55b5de" stroke-width="1.2"/>
<line x1="107.18" y1="261.72" x2="107.18" y2="316.84" stroke="#55b5de" stroke-width="1.2"/>
<line x1="103.68" y1="261.72" x2="110.68" y2="261.72" stroke="#55b5de" stroke-width="1.2"/>
<line x1="103.68" y1="316.84" x2="110.68" y2="316.84" stroke="#55b5de" stroke-width="1.2"/>
<line x1="116.32" y1="261.72" x2="116.32" y2="316.01" stroke="#55b5de" stroke-width="1.2"/>
<line x1="112.82" y1="261.72" x2="119.82" y2="261.72" stroke="#55b5de" stroke-width="1.2"/>
<line x1="112.82" y1="316.01" x2="119.82" y2="316.01" stroke="#55b5de" stroke-width="1.2"/>
<line x1="125.47" y1="262.66" x2="125.47" y2="315.91" stroke="#55b5de" stroke-width="1.2"/>
<line x1="121.97" y1="262.66" x2="128.97" y2="262.66" stroke="#55b5de" stroke-width="1.2"/>
<line x1="121.97" y1="315.91" x2="128.97" y2="315.91" stroke="#55b5de" stroke-width="1.2"/>
<line x1="134.62" y1="263.8" x2="134.62" y2="314.76" stroke="#55b5de" stroke-width="1.2"/>
<line x1="131.12" y1="263.8" x2="138.12" y2="263.8" stroke="#55b5de" stroke-width="1.2"/>
<line x1="131.12" y1="314.76" x2="138.12" y2="314.76" stroke="#55b5de" stroke-width="1.2"/>
<line x1="143.76" y1="261.1" x2="143.76" y2="311.85" stroke="#55b5de" stroke-width="1.2"/>
<line x1="140.26" y1="261.1" x2="147.26" y2="261.1" stroke="#55b5de" stroke-width="1.2"/>
<line x1="140.26" y1="311.85" x2="147.26" y2="311.85" stroke="#55b5de" stroke-width="1.2"/>
<line x1="152.9" y1="263.8" x2="152.9" y2="318.92" stroke="#55b5de" stroke-width="1.2"/>
<line x1="149.4" y1="263.8" x2="156.4" y2="263.8" stroke="#55b5de" stroke-width="1.2"/>
<line x1="149.4" y1="318.92" x2="156.4" y2="318.92" stroke="#55b5de" stroke-width="1.2"/>
<line x1="162.05" y1="263.91" x2="162.05" y2="330.26" stroke="#55b5de" stroke-width="1.2"/>
<line x1="158.55" y1="263.91" x2="165.55" y2="263.91" stroke="#55b5de" stroke-width="1.2"/>
<line x1="158.55" y1="330.26" x2="165.55" y2="330.26" stroke="#55b5de" stroke-width="1.2"/>
<line x1="171.19" y1="265.88" x2="171.19" y2="342.84" stroke="#55b5de" stroke-width="1.2"/>
<line x1="167.69" y1="265.88" x2="174.69" y2="265.88" stroke="#55b5de" stroke-width="1.2"/>
<line x1="167.69" y1="342.84" x2="174.69" y2="342.84" stroke="#55b5de" stroke-width="1.2"/>
<line x1="180.34" y1="268.38" x2="180.34" y2="350.12" stroke="#55b5de" stroke-width="1.2"/>
<line x1="176.84" y1="268.38" x2="183.84" y2="268.38" stroke="#55b5de" stroke-width="1.2"/>
<line x1="176.84" y1="350.12" x2="183.84" y2="350.12" stroke="#55b5de" stroke-width="1.2"/>
<line x1="189.48" y1="270.98" x2="189.48" y2="355.64" stroke="#55b5de" stroke-width="1.2"/>
<line x1="185.98" y1="270.98" x2="192.98" y2="270.98" stroke="#55b5de" stroke-width="1.2"/>
<line x1="185.98" y1="355.64" x2="192.98" y2="355.64" stroke="#55b5de" stroke-width="1.2"/>
<line x1="198.63" y1="272.02" x2="198.63" y2="358.34" stroke="#55b5de" stroke-width="1.2"/>
<line x1="195.13" y1="272.02" x2="202.13" y2="272.02" stroke="#55b5de" stroke-width="1.2"/>
<line x1="195.13" y1="358.34" x2="202.13" y2="358.34" stroke="#55b5de" stroke-width="1.2"/>
<line x1="207.77" y1="272.75" x2="207.77" y2="359.07" stroke="#55b5de" stroke-width="1.2"/>
<line x1="204.27" y1="272.75" x2="211.27" y2="272.75" stroke="#55b5de" stroke-width="1.2"/>
<line x1="204.27" y1="359.07" x2="211.27" y2="359.07" stroke="#55b5de" stroke-width="1.2"/>
<line x1="216.92" y1="271.5" x2="216.92" y2="358.86" stroke="#55b5de" stroke-width="1.2"/>
<line x1="213.42" y1="271.5" x2="220.42" y2="271.5" stroke="#55b5de" stroke-width="1.2"/>
<line x1="213.42" y1="358.86" x2="220.42" y2="358.86" stroke="#55b5de" stroke-width="1.2"/>
<line x1="226.06" y1="269" x2="226.06" y2="356.16" stroke="#55b5de" stroke-width="1.2"/>
<line x1="222.56" y1="269" x2="229.56" y2="269" stroke="#55b5de" stroke-width="1.2"/>
<line x1="222.56" y1="356.16" x2="229.56" y2="356.16" stroke="#55b5de" stroke-width="1.2"/>
<line x1="235.21" y1="269.73" x2="235.21" y2="347.52" stroke="#55b5de" stroke-width="1.2"/>
<line x1="231.71" y1="269.73" x2="238.71" y2="269.73" stroke="#55b5de" stroke-width="1.2"/>
<line x1="231.71" y1="347.52" x2="238.71" y2="347.52" stroke="#55b5de" stroke-width="1.2"/>
<line x1="244.35" y1="268.38" x2="244.35" y2="343.68" stroke="#55b5de" stroke-width="1.2"/>
<line x1="240.85" y1="268.38" x2="247.85" y2="268.38" stroke="#55b5de" stroke-width="1.2"/>
<line x1="240.85" y1="343.68" x2="247.85" y2="343.68" stroke="#55b5de" stroke-width="1.2"/>
<line x1="253.5" y1="267.65" x2="253.5" y2="337.75" stroke="#55b5de" stroke-width="1.2"/>
<line x1="250" y1="267.65" x2="257" y2="267.65" stroke="#55b5de" stroke-width="1.2"/>
<line x1="250" y1="337.75" x2="257" y2="337.75" stroke="#55b5de" stroke-width="1.2"/>
<line x1="262.64" y1="266.92" x2="262.64" y2="333.9" stroke="#55b5de" stroke-width="1.2"/>
<line x1="259.14" y1="266.92" x2="266.14" y2="266.92" stroke="#55b5de" stroke-width="1.2"/>
<line x1="259.14" y1="333.9" x2="266.14" y2="333.9" stroke="#55b5de" stroke-width="1.2"/>
<line x1="271.79" y1="266.3" x2="271.79" y2="331.2" stroke="#55b5de" stroke-width="1.2"/>
<line x1="268.29" y1="266.3" x2="275.29" y2="266.3" stroke="#55b5de" stroke-width="1.2"/>
<line x1="268.29" y1="331.2" x2="275.29" y2="331.2" stroke="#55b5de" stroke-width="1.2"/>
<line x1="280.93" y1="265.47" x2="280.93" y2="328.7" stroke="#55b5de" stroke-width="1.2"/>
<line x1="277.43" y1="265.47" x2="284.43" y2="265.47" stroke="#55b5de" stroke-width="1.2"/>
<line x1="277.43" y1="328.7" x2="284.43" y2="328.7" stroke="#55b5de" stroke-width="1.2"/>
<polyline points="70.6,279.72 79.74,277.22 88.89,275.56 98.03,274 107.18,272.85 116.32,271.92 125.47,271.71 134.62,273.37 143.76,278.16 152.9,287.2 162.05,295.42 171.19,301.97 180.34,307.69 189.48,311.02 198.63,312.58 207.77,313.31 216.92,311.64 226.06,307.69 235.21,296.77 244.35,292.82 253.5,288.76 262.64,285.54 271.79,282.94 280.93,281.9" fill="none" stroke="#c8c8c8" stroke-width="2" stroke-linejoin="round"/>
<circle cx="70.6" cy="279.72" r="4.5" fill="#c8c8c8"/>
<circle cx="79.74" cy="277.22" r="4.5" fill="#c8c8c8"/>
<circle cx="88.89" cy="275.56" r="4.5" fill="#c8c8c8"/>
<circle cx="98.03" cy="274" r="4.5" fill="#c8c8c8"/>
<circle cx="107.18" cy="272.85" r="4.5" fill="#c8c8c8"/>
<circle cx="116.32" cy="271.92" r="4.5" fill="#c8c8c8"/>
<circle cx="125.47" cy="271.71" r="4.5" fill="#c8c8c8"/>
<circle cx="134.62" cy="273.37" r="4.5" fill="#c8c8c8"/>
<circle cx="143.76" cy="278.16" r="4.5" fill="#c8c8c8"/>
<circle cx="152.9" cy="287.2" r="4.5" fill="#c8c8c8"/>
<circle cx="162.05" cy="295.42" r="4.5" fill="#c8c8c8"/>
<circle cx="171.19" cy="301.97" r="4.5" fill="#c8c8c8"/>
<circle cx="180.34" cy="307.69" r="4.5" fill="#c8c8c8"/>
<circle cx="189.48" cy="311.02" r="4.5" fill="#c8c8c8"/>
<circle cx="198.63" cy="312.58" r="4.5" fill="#c8c8c8"/>
<circle cx="207.77" cy="313.31" r="4.5" fill="#c8c8c8"/>
<circle cx="216.92" cy="311.64" r="4.5" fill="#c8c8c8"/>
<circle cx="226.06" cy="307.69" r="4.5" fill="#c8c8c8"/>
<circle cx="235.21" cy="296.77" r="4.5" fill="#c8c8c8"/>
<circle cx="244.35" cy="292.82" r="4.5" fill="#c8c8c8"/>
<circle cx="253.5" cy="288.76" r="4.5" fill="#c8c8c8"/>
<circle cx="262.64" cy="285.54" r="4.5" fill="#c8c8c8"/>
<circle cx="271.79" cy="282.94" r="4.5" fill="#c8c8c8"/>
<circle cx="280.93" cy="281.9" r="4.5" fill="#c8c8c8"/>
<line x1="70.6" y1="255.8" x2="70.6" y2="303.64" stroke="#d6d6d6" stroke-width="1"/>
<line x1="67.1" y1="255.8" x2="74.1" y2="255.8" stroke="#d6d6d6" stroke-width="1"/>
<line x1="67.1" y1="303.64" x2="74.1" y2="303.64" stroke="#d6d6d6" stroke-width="1"/>
<line x1="79.74" y1="253.82" x2="79.74" y2="300.62" stroke="#d6d6d6" stroke-width="1"/>
<line x1="76.24" y1="253.82" x2="83.24" y2="253.82" stroke="#d6d6d6" stroke-width="1"/>
<line x1="76.24" y1="300.62" x2="83.24" y2="300.62" stroke="#d6d6d6" stroke-width="1"/>
<line x1="88.89" y1="252.68" x2="88.89" y2="298.44" stroke="#d6d6d6" stroke-width="1"/>
<line x1="85.39" y1="252.68" x2="92.39" y2="252.68" stroke="#d6d6d6" stroke-width="1"/>
<line x1="85.39" y1="298.44" x2="92.39" y2="298.44" stroke="#d6d6d6" stroke-width="1"/>
<line x1="98.03" y1="251.64" x2="98.03" y2="296.36" stroke="#d6d6d6" stroke-width="1"/>
<line x1="94.53" y1="251.64" x2="101.53" y2="251.64" stroke="#d6d6d6" stroke-width="1"/>
<line x1="94.53" y1="296.36" x2="101.53" y2="296.36" stroke="#d6d6d6" stroke-width="1"/>
<line x1="107.18" y1="249.45" x2="107.18" y2="296.25" stroke="#d6d6d6" stroke-width="1"/>
<line x1="103.68" y1="249.45" x2="110.68" y2="249.45" stroke="#d6d6d6" stroke-width="1"/>
<line x1="103.68" y1="296.25" x2="110.68" y2="296.25" stroke="#d6d6d6" stroke-width="1"/>
<line x1="116.32" y1="249.04" x2="116.32" y2="294.8" stroke="#d6d6d6" stroke-width="1"/>
<line x1="112.82" y1="249.04" x2="119.82" y2="249.04" stroke="#d6d6d6" stroke-width="1"/>
<line x1="112.82" y1="294.8" x2="119.82" y2="294.8" stroke="#d6d6d6" stroke-width="1"/>
<line x1="125.47" y1="246.23" x2="125.47" y2="297.19" stroke="#d6d6d6" stroke-width="1"/>
<line x1="121.97" y1="246.23" x2="128.97" y2="246.23" stroke="#d6d6d6" stroke-width="1"/>
<line x1="121.97" y1="297.19" x2="128.97" y2="297.19" stroke="#d6d6d6" stroke-width="1"/>
<line x1="134.62" y1="247.37" x2="134.62" y2="299.37" stroke="#d6d6d6" stroke-width="1"/>
<line x1="131.12" y1="247.37" x2="138.12" y2="247.37" stroke="#d6d6d6" stroke-width="1"/>
<line x1="131.12" y1="299.37" x2="138.12" y2="299.37" stroke="#d6d6d6" stroke-width="1"/>
<line x1="143.76" y1="254.24" x2="143.76" y2="302.08" stroke="#d6d6d6" stroke-width="1"/>
<line x1="140.26" y1="254.24" x2="147.26" y2="254.24" stroke="#d6d6d6" stroke-width="1"/>
<line x1="140.26" y1="302.08" x2="147.26" y2="302.08" stroke="#d6d6d6" stroke-width="1"/>
<line x1="152.9" y1="257.04" x2="152.9" y2="317.36" stroke="#d6d6d6" stroke-width="1"/>
<line x1="149.4" y1="257.04" x2="156.4" y2="257.04" stroke="#d6d6d6" stroke-width="1"/>
<line x1="149.4" y1="317.36" x2="156.4" y2="317.36" stroke="#d6d6d6" stroke-width="1"/>
<line x1="162.05" y1="262.14" x2="162.05" y2="328.7" stroke="#d6d6d6" stroke-width="1"/>
<line x1="158.55" y1="262.14" x2="165.55" y2="262.14" stroke="#d6d6d6" stroke-width="1"/>
<line x1="158.55" y1="328.7" x2="165.55" y2="328.7" stroke="#d6d6d6" stroke-width="1"/>
<line x1="171.19" y1="271.5" x2="171.19" y2="332.44" stroke="#d6d6d6" stroke-width="1"/>
<line x1="167.69" y1="271.5" x2="174.69" y2="271.5" stroke="#d6d6d6" stroke-width="1"/>
<line x1="167.69" y1="332.44" x2="174.69" y2="332.44" stroke="#d6d6d6" stroke-width="1"/>
<line x1="180.34" y1="276.91" x2="180.34" y2="338.48" stroke="#d6d6d6" stroke-width="1"/>
<line x1="176.84" y1="276.91" x2="183.84" y2="276.91" stroke="#d6d6d6" stroke-width="1"/>
<line x1="176.84" y1="338.48" x2="183.84" y2="338.48" stroke="#d6d6d6" stroke-width="1"/>
<line x1="189.48" y1="280.55" x2="189.48" y2="341.49" stroke="#d6d6d6" stroke-width="1"/>
<line x1="185.98" y1="280.55" x2="192.98" y2="280.55" stroke="#d6d6d6" stroke-width="1"/>
<line x1="185.98" y1="341.49" x2="192.98" y2="341.49" stroke="#d6d6d6" stroke-width="1"/>
<line x1="198.63" y1="281.9" x2="198.63" y2="343.26" stroke="#d6d6d6" stroke-width="1"/>
<line x1="195.13" y1="281.9" x2="202.13" y2="281.9" stroke="#d6d6d6" stroke-width="1"/>
<line x1="195.13" y1="343.26" x2="202.13" y2="343.26" stroke="#d6d6d6" stroke-width="1"/>
<line x1="207.77" y1="282.11" x2="207.77" y2="344.51" stroke="#d6d6d6" stroke-width="1"/>
<line x1="204.27" y1="282.11" x2="211.27" y2="282.11" stroke="#d6d6d6" stroke-width="1"/>
<line x1="204.27" y1="344.51" x2="211.27" y2="344.51" stroke="#d6d6d6" stroke-width="1"/>
<line x1="216.92" y1="278.36" x2="216.92" y2="344.92" stroke="#d6d6d6" stroke-width="1"/>
<line x1="213.42" y1="278.36" x2="220.42" y2="278.36" stroke="#d6d6d6" stroke-width="1"/>
<line x1="213.42" y1="344.92" x2="220.42" y2="344.92" stroke="#d6d6d6" stroke-width="1"/>
<line x1="226.06" y1="275.04" x2="226.06" y2="340.35" stroke="#d6d6d6" stroke-width="1"/>
<line x1="222.56" y1="275.04" x2="229.56" y2="275.04" stroke="#d6d6d6" stroke-width="1"/>
<line x1="222.56" y1="340.35" x2="229.56" y2="340.35" stroke="#d6d6d6" stroke-width="1"/>
<line x1="235.21" y1="266.61" x2="235.21" y2="326.93" stroke="#d6d6d6" stroke-width="1"/>
<line x1="231.71" y1="266.61" x2="238.71" y2="266.61" stroke="#d6d6d6" stroke-width="1"/>
<line x1="231.71" y1="326.93" x2="238.71" y2="326.93" stroke="#d6d6d6" stroke-width="1"/>
<line x1="244.35" y1="263.7" x2="244.35" y2="321.94" stroke="#d6d6d6" stroke-width="1"/>
<line x1="240.85" y1="263.7" x2="247.85" y2="263.7" stroke="#d6d6d6" stroke-width="1"/>
<line x1="240.85" y1="321.94" x2="247.85" y2="321.94" stroke="#d6d6d6" stroke-width="1"/>
<line x1="253.5" y1="261.2" x2="253.5" y2="316.32" stroke="#d6d6d6" stroke-width="1"/>
<line x1="250" y1="261.2" x2="257" y2="261.2" stroke="#d6d6d6" stroke-width="1"/>
<line x1="250" y1="316.32" x2="257" y2="316.32" stroke="#d6d6d6" stroke-width="1"/>
<line x1="262.64" y1="259.54" x2="262.64" y2="311.54" stroke="#d6d6d6" stroke-width="1"/>
<line x1="259.14" y1="259.54" x2="266.14" y2="259.54" stroke="#d6d6d6" stroke-width="1"/>
<line x1="259.14" y1="311.54" x2="266.14" y2="311.54" stroke="#d6d6d6" stroke-width="1"/>
<line x1="271.79" y1="257.98" x2="271.79" y2="307.9" stroke="#d6d6d6" stroke-width="1"/>
<line x1="268.29" y1="257.98" x2="275.29" y2="257.98" stroke="#d6d6d6" stroke-width="1"/>
<line x1="268.29" y1="307.9" x2="275.29" y2="307.9" stroke="#d6d6d6" stroke-width="1"/>
<line x1="280.93" y1="257.46" x2="280.93" y2="306.34" stroke="#d6d6d6" stroke-width="1"/>
<line x1="277.43" y1="257.46" x2="284.43" y2="257.46" stroke="#d6d6d6" stroke-width="1"/>
<line x1="277.43" y1="306.34" x2="284.43" y2="306.34" stroke="#d6d6d6" stroke-width="1"/>
<path d="M66.2,219.5 H286 V376.6 H66.2 Z" fill="none" stroke="#3c3c3c" stroke-width="1.5"/>
<line x1="61.2" y1="365.1" x2="66.2" y2="365.1" stroke="#3c3c3c" stroke-width="1.3"/>
<text x="55" y="369.4" font-family="Liberation Sans, sans-serif" font-weight="bold" font-size="12" text-anchor="end" fill="#111" >6</text>
<line x1="61.2" y1="344.3" x2="66.2" y2="344.3" stroke="#3c3c3c" stroke-width="1.3"/>
<text x="55" y="348.6" font-family="Liberation Sans, sans-serif" font-weight="bold" font-size="12" text-anchor="end" fill="#111" >8</text>
<line x1="61.2" y1="323.5" x2="66.2" y2="323.5" stroke="#3c3c3c" stroke-width="1.3"/>
<text x="55" y="327.8" font-family="Liberation Sans, sans-serif" font-weight="bold" font-size="12" text-anchor="end" fill="#111" >10</text>
<line x1="61.2" y1="302.7" x2="66.2" y2="302.7" stroke="#3c3c3c" stroke-width="1.3"/>
<text x="55" y="307" font-family="Liberation Sans, sans-serif" font-weight="bold" font-size="12" text-anchor="end" fill="#111" >12</text>
<line x1="61.2" y1="281.9" x2="66.2" y2="281.9" stroke="#3c3c3c" stroke-width="1.3"/>
<text x="55" y="286.2" font-family="Liberation Sans, sans-serif" font-weight="bold" font-size="12" text-anchor="end" fill="#111" >14</text>
<line x1="61.2" y1="261.1" x2="66.2" y2="261.1" stroke="#3c3c3c" stroke-width="1.3"/>
<text x="55" y="265.4" font-family="Liberation Sans, sans-serif" font-weight="bold" font-size="12" text-anchor="end" fill="#111" >16</text>
<line x1="61.2" y1="240.3" x2="66.2" y2="240.3" stroke="#3c3c3c" stroke-width="1.3"/>
<text x="55" y="244.6" font-family="Liberation Sans, sans-serif" font-weight="bold" font-size="12" text-anchor="end" fill="#111" >18</text>
<line x1="61.2" y1="219.5" x2="66.2" y2="219.5" stroke="#3c3c3c" stroke-width="1.3"/>
<text x="55" y="223.8" font-family="Liberation Sans, sans-serif" font-weight="bold" font-size="12" text-anchor="end" fill="#111" >20</text>
<line x1="70.6" y1="376.6" x2="70.6" y2="383.6" stroke="#3c3c3c" stroke-width="1.3"/>
<line x1="79.74" y1="376.6" x2="79.74" y2="380.6" stroke="#3c3c3c" stroke-width="1.3"/>
<line x1="88.89" y1="376.6" x2="88.89" y2="383.6" stroke="#3c3c3c" stroke-width="1.3"/>
<line x1="98.03" y1="376.6" x2="98.03" y2="380.6" stroke="#3c3c3c" stroke-width="1.3"/>
<line x1="107.18" y1="376.6" x2="107.18" y2="383.6" stroke="#3c3c3c" stroke-width="1.3"/>
<line x1="116.32" y1="376.6" x2="116.32" y2="380.6" stroke="#3c3c3c" stroke-width="1.3"/>
<line x1="125.47" y1="376.6" x2="125.47" y2="383.6" stroke="#3c3c3c" stroke-width="1.3"/>
<line x1="134.62" y1="376.6" x2="134.62" y2="380.6" stroke="#3c3c3c" stroke-width="1.3"/>
<line x1="143.76" y1="376.6" x2="143.76" y2="383.6" stroke="#3c3c3c" stroke-width="1.3"/>
<line x1="152.9" y1="376.6" x2="152.9" y2="380.6" stroke="#3c3c3c" stroke-width="1.3"/>
<line x1="162.05" y1="376.6" x2="162.05" y2="383.6" stroke="#3c3c3c" stroke-width="1.3"/>
<line x1="171.19" y1="376.6" x2="171.19" y2="380.6" stroke="#3c3c3c" stroke-width="1.3"/>
<line x1="180.34" y1="376.6" x2="180.34" y2="383.6" stroke="#3c3c3c" stroke-width="1.3"/>
<line x1="189.48" y1="376.6" x2="189.48" y2="380.6" stroke="#3c3c3c" stroke-width="1.3"/>
<line x1="198.63" y1="376.6" x2="198.63" y2="383.6" stroke="#3c3c3c" stroke-width="1.3"/>
<line x1="207.77" y1="376.6" x2="207.77" y2="380.6" stroke="#3c3c3c" stroke-width="1.3"/>
<line x1="216.92" y1="376.6" x2="216.92" y2="383.6" stroke="#3c3c3c" stroke-width="1.3"/>
<line x1="226.06" y1="376.6" x2="226.06" y2="380.6" stroke="#3c3c3c" stroke-width="1.3"/>
<line x1="235.21" y1="376.6" x2="235.21" y2="383.6" stroke="#3c3c3c" stroke-width="1.3"/>
<line x1="244.35" y1="376.6" x2="244.35" y2="380.6" stroke="#3c3c3c" stroke-width="1.3"/>
<line x1="253.5" y1="376.6" x2="253.5" y2="383.6" stroke="#3c3c3c" stroke-width="1.3"/>
<line x1="262.64" y1="376.6" x2="262.64" y2="380.6" stroke="#3c3c3c" stroke-width="1.3"/>
<line x1="271.79" y1="376.6" x2="271.79" y2="383.6" stroke="#3c3c3c" stroke-width="1.3"/>
<line x1="280.93" y1="376.6" x2="280.93" y2="380.6" stroke="#3c3c3c" stroke-width="1.3"/>
<text x="70.6" y="401.2" font-family="Liberation Sans, sans-serif" font-weight="bold" font-size="11.8" text-anchor="middle" fill="#111" >0</text>
<text x="88.89" y="401.2" font-family="Liberation Sans, sans-serif" font-weight="bold" font-size="11.8" text-anchor="middle" fill="#111" >2</text>
<text x="107.18" y="401.2" font-family="Liberation Sans, sans-serif" font-weight="bold" font-size="11.8" text-anchor="middle" fill="#111" >4</text>
<text x="125.47" y="401.2" font-family="Liberation Sans, sans-serif" font-weight="bold" font-size="11.8" text-anchor="middle" fill="#111" >6</text>
<text x="143.76" y="401.2" font-family="Liberation Sans, sans-serif" font-weight="bold" font-size="11.8" text-anchor="middle" fill="#111" >8</text>
<text x="162.05" y="401.2" font-family="Liberation Sans, sans-serif" font-weight="bold" font-size="11.8" text-anchor="middle" fill="#111" >10</text>
<text x="180.34" y="401.2" font-family="Liberation Sans, sans-serif" font-weight="bold" font-size="11.8" text-anchor="middle" fill="#111" >12</text>
<text x="198.63" y="401.2" font-family="Liberation Sans, sans-serif" font-weight="bold" font-size="11.8" text-anchor="middle" fill="#111" >14</text>
<text x="216.92" y="401.2" font-family="Liberation Sans, sans-serif" font-weight="bold" font-size="11.8" text-anchor="middle" fill="#111" >16</text>
<text x="235.21" y="401.2" font-family="Liberation Sans, sans-serif" font-weight="bold" font-size="11.8" text-anchor="middle" fill="#111" >18</text>
<text x="253.5" y="401.2" font-family="Liberation Sans, sans-serif" font-weight="bold" font-size="11.8" text-anchor="middle" fill="#111" >20</text>
<text x="271.79" y="401.2" font-family="Liberation Sans, sans-serif" font-weight="bold" font-size="11.8" text-anchor="middle" fill="#111" >22</text>
<text x="175.5" y="418" font-family="Liberation Sans, sans-serif" font-weight="bold" font-size="12" text-anchor="middle" fill="#111" >Beijing time</text>
<text x="280.7" y="234.2" font-family="Liberation Sans, sans-serif" font-weight="bold" font-size="12" text-anchor="end" fill="#111" >(c)</text>
<text transform="translate(18.8,299.6) rotate(-90)" font-family="Liberation Sans, sans-serif" font-weight="bold" font-size="12.3" text-anchor="middle" fill="#111">Lower tropospheric</text>
<text transform="translate(36.7,299.6) rotate(-90)" font-family="Liberation Sans, sans-serif" font-weight="bold" font-size="12.3" text-anchor="middle" fill="#111">stability (K)</text>
<line x1="78" y1="344.9" x2="102" y2="344.9" stroke="#0f93d2" stroke-width="2"/>
<circle cx="90" cy="344.9" r="4.2" fill="#0f93d2"/>
<line x1="78" y1="358.3" x2="102" y2="358.3" stroke="#c8c8c8" stroke-width="2"/>
<circle cx="90" cy="358.3" r="4.2" fill="#c8c8c8"/>
<text x="106.6" y="348.5" font-family="Liberation Sans, sans-serif" font-weight="bold" font-size="9.9" text-anchor="start" fill="#111" >Clean day</text>
<text x="106.6" y="361.8" font-family="Liberation Sans, sans-serif" font-weight="bold" font-size="9.9" text-anchor="start" fill="#111" >Polluted day</text>
<line x1="355.1" y1="222.4" x2="355.1" y2="376.4" stroke="#cccccc" stroke-width="1" stroke-dasharray="1,2"/>
<line x1="373.44" y1="222.4" x2="373.44" y2="376.4" stroke="#cccccc" stroke-width="1" stroke-dasharray="1,2"/>
<line x1="391.77" y1="222.4" x2="391.77" y2="376.4" stroke="#cccccc" stroke-width="1" stroke-dasharray="1,2"/>
<line x1="410.11" y1="222.4" x2="410.11" y2="376.4" stroke="#cccccc" stroke-width="1" stroke-dasharray="1,2"/>
<line x1="428.44" y1="222.4" x2="428.44" y2="376.4" stroke="#cccccc" stroke-width="1" stroke-dasharray="1,2"/>
<line x1="446.78" y1="222.4" x2="446.78" y2="376.4" stroke="#cccccc" stroke-width="1" stroke-dasharray="1,2"/>
<line x1="465.12" y1="222.4" x2="465.12" y2="376.4" stroke="#cccccc" stroke-width="1" stroke-dasharray="1,2"/>
<line x1="483.45" y1="222.4" x2="483.45" y2="376.4" stroke="#cccccc" stroke-width="1" stroke-dasharray="1,2"/>
<line x1="501.79" y1="222.4" x2="501.79" y2="376.4" stroke="#cccccc" stroke-width="1" stroke-dasharray="1,2"/>
<line x1="520.12" y1="222.4" x2="520.12" y2="376.4" stroke="#cccccc" stroke-width="1" stroke-dasharray="1,2"/>
<line x1="538.46" y1="222.4" x2="538.46" y2="376.4" stroke="#cccccc" stroke-width="1" stroke-dasharray="1,2"/>
<line x1="556.8" y1="222.4" x2="556.8" y2="376.4" stroke="#cccccc" stroke-width="1" stroke-dasharray="1,2"/>
<polyline points="355.1,275.35 364.27,272.41 373.44,269.66 382.6,266.71 391.77,265.34 400.94,263.97 410.11,264.75 419.28,277.51 428.44,290.07 437.61,300.86 446.78,309.3 455.95,315.38 465.12,321.47 474.28,325.79 483.45,327.75 492.62,328.73 501.79,326.96 510.96,324.22 520.12,318.72 529.29,310.87 538.46,301.84 547.63,294.78 556.8,288.3 565.96,282.41" fill="none" stroke="#0f93d2" stroke-width="2" stroke-linejoin="round"/>
<circle cx="355.1" cy="275.35" r="4.5" fill="#0f93d2"/>
<circle cx="364.27" cy="272.41" r="4.5" fill="#0f93d2"/>
<circle cx="373.44" cy="269.66" r="4.5" fill="#0f93d2"/>
<circle cx="382.6" cy="266.71" r="4.5" fill="#0f93d2"/>
<circle cx="391.77" cy="265.34" r="4.5" fill="#0f93d2"/>
<circle cx="400.94" cy="263.97" r="4.5" fill="#0f93d2"/>
<circle cx="410.11" cy="264.75" r="4.5" fill="#0f93d2"/>
<circle cx="419.28" cy="277.51" r="4.5" fill="#0f93d2"/>
<circle cx="428.44" cy="290.07" r="4.5" fill="#0f93d2"/>
<circle cx="437.61" cy="300.86" r="4.5" fill="#0f93d2"/>
<circle cx="446.78" cy="309.3" r="4.5" fill="#0f93d2"/>
<circle cx="455.95" cy="315.38" r="4.5" fill="#0f93d2"/>
<circle cx="465.12" cy="321.47" r="4.5" fill="#0f93d2"/>
<circle cx="474.28" cy="325.79" r="4.5" fill="#0f93d2"/>
<circle cx="483.45" cy="327.75" r="4.5" fill="#0f93d2"/>
<circle cx="492.62" cy="328.73" r="4.5" fill="#0f93d2"/>
<circle cx="501.79" cy="326.96" r="4.5" fill="#0f93d2"/>
<circle cx="510.96" cy="324.22" r="4.5" fill="#0f93d2"/>
<circle cx="520.12" cy="318.72" r="4.5" fill="#0f93d2"/>
<circle cx="529.29" cy="310.87" r="4.5" fill="#0f93d2"/>
<circle cx="538.46" cy="301.84" r="4.5" fill="#0f93d2"/>
<circle cx="547.63" cy="294.78" r="4.5" fill="#0f93d2"/>
<circle cx="556.8" cy="288.3" r="4.5" fill="#0f93d2"/>
<circle cx="565.96" cy="282.41" r="4.5" fill="#0f93d2"/>
<line x1="355.1" y1="256.9" x2="355.1" y2="293.8" stroke="#55b5de" stroke-width="1.2"/>
<line x1="351.6" y1="256.9" x2="358.6" y2="256.9" stroke="#55b5de" stroke-width="1.2"/>
<line x1="351.6" y1="293.8" x2="358.6" y2="293.8" stroke="#55b5de" stroke-width="1.2"/>
<line x1="364.27" y1="253.76" x2="364.27" y2="291.05" stroke="#55b5de" stroke-width="1.2"/>
<line x1="360.77" y1="253.76" x2="367.77" y2="253.76" stroke="#55b5de" stroke-width="1.2"/>
<line x1="360.77" y1="291.05" x2="367.77" y2="291.05" stroke="#55b5de" stroke-width="1.2"/>
<line x1="373.44" y1="252.39" x2="373.44" y2="286.93" stroke="#55b5de" stroke-width="1.2"/>
<line x1="369.94" y1="252.39" x2="376.94" y2="252.39" stroke="#55b5de" stroke-width="1.2"/>
<line x1="369.94" y1="286.93" x2="376.94" y2="286.93" stroke="#55b5de" stroke-width="1.2"/>
<line x1="382.6" y1="251.41" x2="382.6" y2="282.02" stroke="#55b5de" stroke-width="1.2"/>
<line x1="379.1" y1="251.41" x2="386.1" y2="251.41" stroke="#55b5de" stroke-width="1.2"/>
<line x1="379.1" y1="282.02" x2="386.1" y2="282.02" stroke="#55b5de" stroke-width="1.2"/>
<line x1="391.77" y1="249.44" x2="391.77" y2="281.24" stroke="#55b5de" stroke-width="1.2"/>
<line x1="388.27" y1="249.44" x2="395.27" y2="249.44" stroke="#55b5de" stroke-width="1.2"/>
<line x1="388.27" y1="281.24" x2="395.27" y2="281.24" stroke="#55b5de" stroke-width="1.2"/>
<line x1="400.94" y1="247.87" x2="400.94" y2="280.06" stroke="#55b5de" stroke-width="1.2"/>
<line x1="397.44" y1="247.87" x2="404.44" y2="247.87" stroke="#55b5de" stroke-width="1.2"/>
<line x1="397.44" y1="280.06" x2="404.44" y2="280.06" stroke="#55b5de" stroke-width="1.2"/>
<line x1="410.11" y1="249.64" x2="410.11" y2="279.86" stroke="#55b5de" stroke-width="1.2"/>
<line x1="406.61" y1="249.64" x2="413.61" y2="249.64" stroke="#55b5de" stroke-width="1.2"/>
<line x1="406.61" y1="279.86" x2="413.61" y2="279.86" stroke="#55b5de" stroke-width="1.2"/>
<line x1="419.28" y1="263.77" x2="419.28" y2="291.25" stroke="#55b5de" stroke-width="1.2"/>
<line x1="415.78" y1="263.77" x2="422.78" y2="263.77" stroke="#55b5de" stroke-width="1.2"/>
<line x1="415.78" y1="291.25" x2="422.78" y2="291.25" stroke="#55b5de" stroke-width="1.2"/>
<line x1="428.44" y1="277.12" x2="428.44" y2="303.02" stroke="#55b5de" stroke-width="1.2"/>
<line x1="424.94" y1="277.12" x2="431.94" y2="277.12" stroke="#55b5de" stroke-width="1.2"/>
<line x1="424.94" y1="303.02" x2="431.94" y2="303.02" stroke="#55b5de" stroke-width="1.2"/>
<line x1="437.61" y1="289.48" x2="437.61" y2="312.25" stroke="#55b5de" stroke-width="1.2"/>
<line x1="434.11" y1="289.48" x2="441.11" y2="289.48" stroke="#55b5de" stroke-width="1.2"/>
<line x1="434.11" y1="312.25" x2="441.11" y2="312.25" stroke="#55b5de" stroke-width="1.2"/>
<line x1="446.78" y1="297.92" x2="446.78" y2="320.68" stroke="#55b5de" stroke-width="1.2"/>
<line x1="443.28" y1="297.92" x2="450.28" y2="297.92" stroke="#55b5de" stroke-width="1.2"/>
<line x1="443.28" y1="320.68" x2="450.28" y2="320.68" stroke="#55b5de" stroke-width="1.2"/>
<line x1="455.95" y1="304.98" x2="455.95" y2="325.79" stroke="#55b5de" stroke-width="1.2"/>
<line x1="452.45" y1="304.98" x2="459.45" y2="304.98" stroke="#55b5de" stroke-width="1.2"/>
<line x1="452.45" y1="325.79" x2="459.45" y2="325.79" stroke="#55b5de" stroke-width="1.2"/>
<line x1="465.12" y1="310.28" x2="465.12" y2="332.65" stroke="#55b5de" stroke-width="1.2"/>
<line x1="461.62" y1="310.28" x2="468.62" y2="310.28" stroke="#55b5de" stroke-width="1.2"/>
<line x1="461.62" y1="332.65" x2="468.62" y2="332.65" stroke="#55b5de" stroke-width="1.2"/>
<line x1="474.28" y1="316.17" x2="474.28" y2="335.4" stroke="#55b5de" stroke-width="1.2"/>
<line x1="470.78" y1="316.17" x2="477.78" y2="316.17" stroke="#55b5de" stroke-width="1.2"/>
<line x1="470.78" y1="335.4" x2="477.78" y2="335.4" stroke="#55b5de" stroke-width="1.2"/>
<line x1="483.45" y1="318.92" x2="483.45" y2="336.58" stroke="#55b5de" stroke-width="1.2"/>
<line x1="479.95" y1="318.92" x2="486.95" y2="318.92" stroke="#55b5de" stroke-width="1.2"/>
<line x1="479.95" y1="336.58" x2="486.95" y2="336.58" stroke="#55b5de" stroke-width="1.2"/>
<line x1="492.62" y1="319.11" x2="492.62" y2="338.35" stroke="#55b5de" stroke-width="1.2"/>
<line x1="489.12" y1="319.11" x2="496.12" y2="319.11" stroke="#55b5de" stroke-width="1.2"/>
<line x1="489.12" y1="338.35" x2="496.12" y2="338.35" stroke="#55b5de" stroke-width="1.2"/>
<line x1="501.79" y1="316.56" x2="501.79" y2="337.36" stroke="#55b5de" stroke-width="1.2"/>
<line x1="498.29" y1="316.56" x2="505.29" y2="316.56" stroke="#55b5de" stroke-width="1.2"/>
<line x1="498.29" y1="337.36" x2="505.29" y2="337.36" stroke="#55b5de" stroke-width="1.2"/>
<line x1="510.96" y1="316.37" x2="510.96" y2="332.07" stroke="#55b5de" stroke-width="1.2"/>
<line x1="507.46" y1="316.37" x2="514.46" y2="316.37" stroke="#55b5de" stroke-width="1.2"/>
<line x1="507.46" y1="332.07" x2="514.46" y2="332.07" stroke="#55b5de" stroke-width="1.2"/>
<line x1="520.12" y1="309.11" x2="520.12" y2="328.34" stroke="#55b5de" stroke-width="1.2"/>
<line x1="516.62" y1="309.11" x2="523.62" y2="309.11" stroke="#55b5de" stroke-width="1.2"/>
<line x1="516.62" y1="328.34" x2="523.62" y2="328.34" stroke="#55b5de" stroke-width="1.2"/>
<line x1="529.29" y1="298.31" x2="529.29" y2="323.43" stroke="#55b5de" stroke-width="1.2"/>
<line x1="525.79" y1="298.31" x2="532.79" y2="298.31" stroke="#55b5de" stroke-width="1.2"/>
<line x1="525.79" y1="323.43" x2="532.79" y2="323.43" stroke="#55b5de" stroke-width="1.2"/>
<line x1="538.46" y1="289.48" x2="538.46" y2="314.21" stroke="#55b5de" stroke-width="1.2"/>
<line x1="534.96" y1="289.48" x2="541.96" y2="289.48" stroke="#55b5de" stroke-width="1.2"/>
<line x1="534.96" y1="314.21" x2="541.96" y2="314.21" stroke="#55b5de" stroke-width="1.2"/>
<line x1="547.63" y1="281.83" x2="547.63" y2="307.73" stroke="#55b5de" stroke-width="1.2"/>
<line x1="544.13" y1="281.83" x2="551.13" y2="281.83" stroke="#55b5de" stroke-width="1.2"/>
<line x1="544.13" y1="307.73" x2="551.13" y2="307.73" stroke="#55b5de" stroke-width="1.2"/>
<line x1="556.8" y1="276.13" x2="556.8" y2="300.47" stroke="#55b5de" stroke-width="1.2"/>
<line x1="553.3" y1="276.13" x2="560.3" y2="276.13" stroke="#55b5de" stroke-width="1.2"/>
<line x1="553.3" y1="300.47" x2="560.3" y2="300.47" stroke="#55b5de" stroke-width="1.2"/>
<line x1="565.96" y1="268.68" x2="565.96" y2="296.15" stroke="#55b5de" stroke-width="1.2"/>
<line x1="562.46" y1="268.68" x2="569.46" y2="268.68" stroke="#55b5de" stroke-width="1.2"/>
<line x1="562.46" y1="296.15" x2="569.46" y2="296.15" stroke="#55b5de" stroke-width="1.2"/>
<polyline points="355.1,268.28 364.27,263.97 373.44,259.65 382.6,256.31 391.77,254.15 400.94,252.19 410.11,252.19 419.28,258.28 428.44,266.13 437.61,274.76 446.78,282.41 455.95,289.28 465.12,295.96 474.28,301.06 483.45,304.59 492.62,305.77 501.79,305.77 510.96,302.43 520.12,295.37 529.29,289.09 538.46,281.04 547.63,274.96 556.8,271.82 565.96,268.48" fill="none" stroke="#c8c8c8" stroke-width="2" stroke-linejoin="round"/>
<circle cx="355.1" cy="268.28" r="4.5" fill="#c8c8c8"/>
<circle cx="364.27" cy="263.97" r="4.5" fill="#c8c8c8"/>
<circle cx="373.44" cy="259.65" r="4.5" fill="#c8c8c8"/>
<circle cx="382.6" cy="256.31" r="4.5" fill="#c8c8c8"/>
<circle cx="391.77" cy="254.15" r="4.5" fill="#c8c8c8"/>
<circle cx="400.94" cy="252.19" r="4.5" fill="#c8c8c8"/>
<circle cx="410.11" cy="252.19" r="4.5" fill="#c8c8c8"/>
<circle cx="419.28" cy="258.28" r="4.5" fill="#c8c8c8"/>
<circle cx="428.44" cy="266.13" r="4.5" fill="#c8c8c8"/>
<circle cx="437.61" cy="274.76" r="4.5" fill="#c8c8c8"/>
<circle cx="446.78" cy="282.41" r="4.5" fill="#c8c8c8"/>
<circle cx="455.95" cy="289.28" r="4.5" fill="#c8c8c8"/>
<circle cx="465.12" cy="295.96" r="4.5" fill="#c8c8c8"/>
<circle cx="474.28" cy="301.06" r="4.5" fill="#c8c8c8"/>
<circle cx="483.45" cy="304.59" r="4.5" fill="#c8c8c8"/>
<circle cx="492.62" cy="305.77" r="4.5" fill="#c8c8c8"/>
<circle cx="501.79" cy="305.77" r="4.5" fill="#c8c8c8"/>
<circle cx="510.96" cy="302.43" r="4.5" fill="#c8c8c8"/>
<circle cx="520.12" cy="295.37" r="4.5" fill="#c8c8c8"/>
<circle cx="529.29" cy="289.09" r="4.5" fill="#c8c8c8"/>
<circle cx="538.46" cy="281.04" r="4.5" fill="#c8c8c8"/>
<circle cx="547.63" cy="274.96" r="4.5" fill="#c8c8c8"/>
<circle cx="556.8" cy="271.82" r="4.5" fill="#c8c8c8"/>
<circle cx="565.96" cy="268.48" r="4.5" fill="#c8c8c8"/>
<line x1="355.1" y1="252.58" x2="355.1" y2="283.99" stroke="#d6d6d6" stroke-width="1"/>
<line x1="351.6" y1="252.58" x2="358.6" y2="252.58" stroke="#d6d6d6" stroke-width="1"/>
<line x1="351.6" y1="283.99" x2="358.6" y2="283.99" stroke="#d6d6d6" stroke-width="1"/>
<line x1="364.27" y1="247.48" x2="364.27" y2="280.45" stroke="#d6d6d6" stroke-width="1"/>
<line x1="360.77" y1="247.48" x2="367.77" y2="247.48" stroke="#d6d6d6" stroke-width="1"/>
<line x1="360.77" y1="280.45" x2="367.77" y2="280.45" stroke="#d6d6d6" stroke-width="1"/>
<line x1="373.44" y1="243.56" x2="373.44" y2="275.74" stroke="#d6d6d6" stroke-width="1"/>
<line x1="369.94" y1="243.56" x2="376.94" y2="243.56" stroke="#d6d6d6" stroke-width="1"/>
<line x1="369.94" y1="275.74" x2="376.94" y2="275.74" stroke="#d6d6d6" stroke-width="1"/>
<line x1="382.6" y1="238.45" x2="382.6" y2="274.17" stroke="#d6d6d6" stroke-width="1"/>
<line x1="379.1" y1="238.45" x2="386.1" y2="238.45" stroke="#d6d6d6" stroke-width="1"/>
<line x1="379.1" y1="274.17" x2="386.1" y2="274.17" stroke="#d6d6d6" stroke-width="1"/>
<line x1="391.77" y1="235.71" x2="391.77" y2="272.6" stroke="#d6d6d6" stroke-width="1"/>
<line x1="388.27" y1="235.71" x2="395.27" y2="235.71" stroke="#d6d6d6" stroke-width="1"/>
<line x1="388.27" y1="272.6" x2="395.27" y2="272.6" stroke="#d6d6d6" stroke-width="1"/>
<line x1="400.94" y1="234.14" x2="400.94" y2="270.25" stroke="#d6d6d6" stroke-width="1"/>
<line x1="397.44" y1="234.14" x2="404.44" y2="234.14" stroke="#d6d6d6" stroke-width="1"/>
<line x1="397.44" y1="270.25" x2="404.44" y2="270.25" stroke="#d6d6d6" stroke-width="1"/>
<line x1="410.11" y1="237.08" x2="410.11" y2="267.3" stroke="#d6d6d6" stroke-width="1"/>
<line x1="406.61" y1="237.08" x2="413.61" y2="237.08" stroke="#d6d6d6" stroke-width="1"/>
<line x1="406.61" y1="267.3" x2="413.61" y2="267.3" stroke="#d6d6d6" stroke-width="1"/>
<line x1="419.28" y1="243.56" x2="419.28" y2="273" stroke="#d6d6d6" stroke-width="1"/>
<line x1="415.78" y1="243.56" x2="422.78" y2="243.56" stroke="#d6d6d6" stroke-width="1"/>
<line x1="415.78" y1="273" x2="422.78" y2="273" stroke="#d6d6d6" stroke-width="1"/>
<line x1="428.44" y1="252" x2="428.44" y2="280.26" stroke="#d6d6d6" stroke-width="1"/>
<line x1="424.94" y1="252" x2="431.94" y2="252" stroke="#d6d6d6" stroke-width="1"/>
<line x1="424.94" y1="280.26" x2="431.94" y2="280.26" stroke="#d6d6d6" stroke-width="1"/>
<line x1="437.61" y1="262.59" x2="437.61" y2="286.93" stroke="#d6d6d6" stroke-width="1"/>
<line x1="434.11" y1="262.59" x2="441.11" y2="262.59" stroke="#d6d6d6" stroke-width="1"/>
<line x1="434.11" y1="286.93" x2="441.11" y2="286.93" stroke="#d6d6d6" stroke-width="1"/>
<line x1="446.78" y1="271.03" x2="446.78" y2="293.8" stroke="#d6d6d6" stroke-width="1"/>
<line x1="443.28" y1="271.03" x2="450.28" y2="271.03" stroke="#d6d6d6" stroke-width="1"/>
<line x1="443.28" y1="293.8" x2="450.28" y2="293.8" stroke="#d6d6d6" stroke-width="1"/>
<line x1="455.95" y1="278.29" x2="455.95" y2="300.27" stroke="#d6d6d6" stroke-width="1"/>
<line x1="452.45" y1="278.29" x2="459.45" y2="278.29" stroke="#d6d6d6" stroke-width="1"/>
<line x1="452.45" y1="300.27" x2="459.45" y2="300.27" stroke="#d6d6d6" stroke-width="1"/>
<line x1="465.12" y1="284.57" x2="465.12" y2="307.34" stroke="#d6d6d6" stroke-width="1"/>
<line x1="461.62" y1="284.57" x2="468.62" y2="284.57" stroke="#d6d6d6" stroke-width="1"/>
<line x1="461.62" y1="307.34" x2="468.62" y2="307.34" stroke="#d6d6d6" stroke-width="1"/>
<line x1="474.28" y1="291.05" x2="474.28" y2="311.07" stroke="#d6d6d6" stroke-width="1"/>
<line x1="470.78" y1="291.05" x2="477.78" y2="291.05" stroke="#d6d6d6" stroke-width="1"/>
<line x1="470.78" y1="311.07" x2="477.78" y2="311.07" stroke="#d6d6d6" stroke-width="1"/>
<line x1="483.45" y1="293.99" x2="483.45" y2="315.19" stroke="#d6d6d6" stroke-width="1"/>
<line x1="479.95" y1="293.99" x2="486.95" y2="293.99" stroke="#d6d6d6" stroke-width="1"/>
<line x1="479.95" y1="315.19" x2="486.95" y2="315.19" stroke="#d6d6d6" stroke-width="1"/>
<line x1="492.62" y1="293.99" x2="492.62" y2="317.54" stroke="#d6d6d6" stroke-width="1"/>
<line x1="489.12" y1="293.99" x2="496.12" y2="293.99" stroke="#d6d6d6" stroke-width="1"/>
<line x1="489.12" y1="317.54" x2="496.12" y2="317.54" stroke="#d6d6d6" stroke-width="1"/>
<line x1="501.79" y1="293.01" x2="501.79" y2="318.52" stroke="#d6d6d6" stroke-width="1"/>
<line x1="498.29" y1="293.01" x2="505.29" y2="293.01" stroke="#d6d6d6" stroke-width="1"/>
<line x1="498.29" y1="318.52" x2="505.29" y2="318.52" stroke="#d6d6d6" stroke-width="1"/>
<line x1="510.96" y1="290.26" x2="510.96" y2="314.6" stroke="#d6d6d6" stroke-width="1"/>
<line x1="507.46" y1="290.26" x2="514.46" y2="290.26" stroke="#d6d6d6" stroke-width="1"/>
<line x1="507.46" y1="314.6" x2="514.46" y2="314.6" stroke="#d6d6d6" stroke-width="1"/>
<line x1="520.12" y1="281.63" x2="520.12" y2="309.11" stroke="#d6d6d6" stroke-width="1"/>
<line x1="516.62" y1="281.63" x2="523.62" y2="281.63" stroke="#d6d6d6" stroke-width="1"/>
<line x1="516.62" y1="309.11" x2="523.62" y2="309.11" stroke="#d6d6d6" stroke-width="1"/>
<line x1="529.29" y1="274.96" x2="529.29" y2="303.22" stroke="#d6d6d6" stroke-width="1"/>
<line x1="525.79" y1="274.96" x2="532.79" y2="274.96" stroke="#d6d6d6" stroke-width="1"/>
<line x1="525.79" y1="303.22" x2="532.79" y2="303.22" stroke="#d6d6d6" stroke-width="1"/>
<line x1="538.46" y1="266.91" x2="538.46" y2="295.17" stroke="#d6d6d6" stroke-width="1"/>
<line x1="534.96" y1="266.91" x2="541.96" y2="266.91" stroke="#d6d6d6" stroke-width="1"/>
<line x1="534.96" y1="295.17" x2="541.96" y2="295.17" stroke="#d6d6d6" stroke-width="1"/>
<line x1="547.63" y1="260.83" x2="547.63" y2="289.09" stroke="#d6d6d6" stroke-width="1"/>
<line x1="544.13" y1="260.83" x2="551.13" y2="260.83" stroke="#d6d6d6" stroke-width="1"/>
<line x1="544.13" y1="289.09" x2="551.13" y2="289.09" stroke="#d6d6d6" stroke-width="1"/>
<line x1="556.8" y1="257.1" x2="556.8" y2="286.54" stroke="#d6d6d6" stroke-width="1"/>
<line x1="553.3" y1="257.1" x2="560.3" y2="257.1" stroke="#d6d6d6" stroke-width="1"/>
<line x1="553.3" y1="286.54" x2="560.3" y2="286.54" stroke="#d6d6d6" stroke-width="1"/>
<line x1="565.96" y1="252.78" x2="565.96" y2="284.18" stroke="#d6d6d6" stroke-width="1"/>
<line x1="562.46" y1="252.78" x2="569.46" y2="252.78" stroke="#d6d6d6" stroke-width="1"/>
<line x1="562.46" y1="284.18" x2="569.46" y2="284.18" stroke="#d6d6d6" stroke-width="1"/>
<path d="M350.8,220.4 H571 V377.4 H350.8 Z" fill="none" stroke="#3c3c3c" stroke-width="1.5"/>
<line x1="345.8" y1="377.4" x2="350.8" y2="377.4" stroke="#3c3c3c" stroke-width="1.3"/>
<text x="341" y="381.7" font-family="Liberation Sans, sans-serif" font-weight="bold" font-size="12" text-anchor="end" fill="#111" >20</text>
<line x1="345.8" y1="357.77" x2="350.8" y2="357.77" stroke="#3c3c3c" stroke-width="1.3"/>
<text x="341" y="362.07" font-family="Liberation Sans, sans-serif" font-weight="bold" font-size="12" text-anchor="end" fill="#111" >30</text>
<line x1="345.8" y1="338.15" x2="350.8" y2="338.15" stroke="#3c3c3c" stroke-width="1.3"/>
<text x="341" y="342.45" font-family="Liberation Sans, sans-serif" font-weight="bold" font-size="12" text-anchor="end" fill="#111" >40</text>
<line x1="345.8" y1="318.52" x2="350.8" y2="318.52" stroke="#3c3c3c" stroke-width="1.3"/>
<text x="341" y="322.82" font-family="Liberation Sans, sans-serif" font-weight="bold" font-size="12" text-anchor="end" fill="#111" >50</text>
<line x1="345.8" y1="298.9" x2="350.8" y2="298.9" stroke="#3c3c3c" stroke-width="1.3"/>
<text x="341" y="303.2" font-family="Liberation Sans, sans-serif" font-weight="bold" font-size="12" text-anchor="end" fill="#111" >60</text>
<line x1="345.8" y1="279.27" x2="350.8" y2="279.27" stroke="#3c3c3c" stroke-width="1.3"/>
<text x="341" y="283.57" font-family="Liberation Sans, sans-serif" font-weight="bold" font-size="12" text-anchor="end" fill="#111" >70</text>
<line x1="345.8" y1="259.65" x2="350.8" y2="259.65" stroke="#3c3c3c" stroke-width="1.3"/>
<text x="341" y="263.95" font-family="Liberation Sans, sans-serif" font-weight="bold" font-size="12" text-anchor="end" fill="#111" >80</text>
<line x1="345.8" y1="240.02" x2="350.8" y2="240.02" stroke="#3c3c3c" stroke-width="1.3"/>
<text x="341" y="244.32" font-family="Liberation Sans, sans-serif" font-weight="bold" font-size="12" text-anchor="end" fill="#111" >90</text>
<line x1="345.8" y1="220.4" x2="350.8" y2="220.4" stroke="#3c3c3c" stroke-width="1.3"/>
<text x="341" y="224.7" font-family="Liberation Sans, sans-serif" font-weight="bold" font-size="12" text-anchor="end" fill="#111" >100</text>
<line x1="355.1" y1="377.4" x2="355.1" y2="384.4" stroke="#3c3c3c" stroke-width="1.3"/>
<line x1="364.27" y1="377.4" x2="364.27" y2="381.4" stroke="#3c3c3c" stroke-width="1.3"/>
<line x1="373.44" y1="377.4" x2="373.44" y2="384.4" stroke="#3c3c3c" stroke-width="1.3"/>
<line x1="382.6" y1="377.4" x2="382.6" y2="381.4" stroke="#3c3c3c" stroke-width="1.3"/>
<line x1="391.77" y1="377.4" x2="391.77" y2="384.4" stroke="#3c3c3c" stroke-width="1.3"/>
<line x1="400.94" y1="377.4" x2="400.94" y2="381.4" stroke="#3c3c3c" stroke-width="1.3"/>
<line x1="410.11" y1="377.4" x2="410.11" y2="384.4" stroke="#3c3c3c" stroke-width="1.3"/>
<line x1="419.28" y1="377.4" x2="419.28" y2="381.4" stroke="#3c3c3c" stroke-width="1.3"/>
<line x1="428.44" y1="377.4" x2="428.44" y2="384.4" stroke="#3c3c3c" stroke-width="1.3"/>
<line x1="437.61" y1="377.4" x2="437.61" y2="381.4" stroke="#3c3c3c" stroke-width="1.3"/>
<line x1="446.78" y1="377.4" x2="446.78" y2="384.4" stroke="#3c3c3c" stroke-width="1.3"/>
<line x1="455.95" y1="377.4" x2="455.95" y2="381.4" stroke="#3c3c3c" stroke-width="1.3"/>
<line x1="465.12" y1="377.4" x2="465.12" y2="384.4" stroke="#3c3c3c" stroke-width="1.3"/>
<line x1="474.28" y1="377.4" x2="474.28" y2="381.4" stroke="#3c3c3c" stroke-width="1.3"/>
<line x1="483.45" y1="377.4" x2="483.45" y2="384.4" stroke="#3c3c3c" stroke-width="1.3"/>
<line x1="492.62" y1="377.4" x2="492.62" y2="381.4" stroke="#3c3c3c" stroke-width="1.3"/>
<line x1="501.79" y1="377.4" x2="501.79" y2="384.4" stroke="#3c3c3c" stroke-width="1.3"/>
<line x1="510.96" y1="377.4" x2="510.96" y2="381.4" stroke="#3c3c3c" stroke-width="1.3"/>
<line x1="520.12" y1="377.4" x2="520.12" y2="384.4" stroke="#3c3c3c" stroke-width="1.3"/>
<line x1="529.29" y1="377.4" x2="529.29" y2="381.4" stroke="#3c3c3c" stroke-width="1.3"/>
<line x1="538.46" y1="377.4" x2="538.46" y2="384.4" stroke="#3c3c3c" stroke-width="1.3"/>
<line x1="547.63" y1="377.4" x2="547.63" y2="381.4" stroke="#3c3c3c" stroke-width="1.3"/>
<line x1="556.8" y1="377.4" x2="556.8" y2="384.4" stroke="#3c3c3c" stroke-width="1.3"/>
<line x1="565.96" y1="377.4" x2="565.96" y2="381.4" stroke="#3c3c3c" stroke-width="1.3"/>
<text x="355.1" y="402" font-family="Liberation Sans, sans-serif" font-weight="bold" font-size="11.8" text-anchor="middle" fill="#111" >0</text>
<text x="373.44" y="402" font-family="Liberation Sans, sans-serif" font-weight="bold" font-size="11.8" text-anchor="middle" fill="#111" >2</text>
<text x="391.77" y="402" font-family="Liberation Sans, sans-serif" font-weight="bold" font-size="11.8" text-anchor="middle" fill="#111" >4</text>
<text x="410.11" y="402" font-family="Liberation Sans, sans-serif" font-weight="bold" font-size="11.8" text-anchor="middle" fill="#111" >6</text>
<text x="428.44" y="402" font-family="Liberation Sans, sans-serif" font-weight="bold" font-size="11.8" text-anchor="middle" fill="#111" >8</text>
<text x="446.78" y="402" font-family="Liberation Sans, sans-serif" font-weight="bold" font-size="11.8" text-anchor="middle" fill="#111" >10</text>
<text x="465.12" y="402" font-family="Liberation Sans, sans-serif" font-weight="bold" font-size="11.8" text-anchor="middle" fill="#111" >12</text>
<text x="483.45" y="402" font-family="Liberation Sans, sans-serif" font-weight="bold" font-size="11.8" text-anchor="middle" fill="#111" >14</text>
<text x="501.79" y="402" font-family="Liberation Sans, sans-serif" font-weight="bold" font-size="11.8" text-anchor="middle" fill="#111" >16</text>
<text x="520.12" y="402" font-family="Liberation Sans, sans-serif" font-weight="bold" font-size="11.8" text-anchor="middle" fill="#111" >18</text>
<text x="538.46" y="402" font-family="Liberation Sans, sans-serif" font-weight="bold" font-size="11.8" text-anchor="middle" fill="#111" >20</text>
<text x="556.8" y="402" font-family="Liberation Sans, sans-serif" font-weight="bold" font-size="11.8" text-anchor="middle" fill="#111" >22</text>
<text x="459.8" y="419.5" font-family="Liberation Sans, sans-serif" font-weight="bold" font-size="12" text-anchor="middle" fill="#111" >Beijing time</text>
<text x="565.3" y="234.6" font-family="Liberation Sans, sans-serif" font-weight="bold" font-size="12" text-anchor="end" fill="#111" >(d)</text>
<text transform="translate(315,299.3) rotate(-90)" font-family="Liberation Sans, sans-serif" font-weight="bold" font-size="12.5" text-anchor="middle" fill="#111">Relative humitidity (%)</text>
<line x1="361.2" y1="343.2" x2="385" y2="343.2" stroke="#0f93d2" stroke-width="2"/>
<circle cx="373.3" cy="343.2" r="4.2" fill="#0f93d2"/>
<line x1="361.2" y1="356.2" x2="385" y2="356.2" stroke="#c8c8c8" stroke-width="2"/>
<circle cx="373.3" cy="356.2" r="4.2" fill="#c8c8c8"/>
<text x="390.3" y="347" font-family="Liberation Sans, sans-serif" font-weight="bold" font-size="9.9" text-anchor="start" fill="#111" >Clean day</text>
<text x="390.3" y="360.2" font-family="Liberation Sans, sans-serif" font-weight="bold" font-size="9.9" text-anchor="start" fill="#111" >Polluted day</text>
</svg>
</body></html>
